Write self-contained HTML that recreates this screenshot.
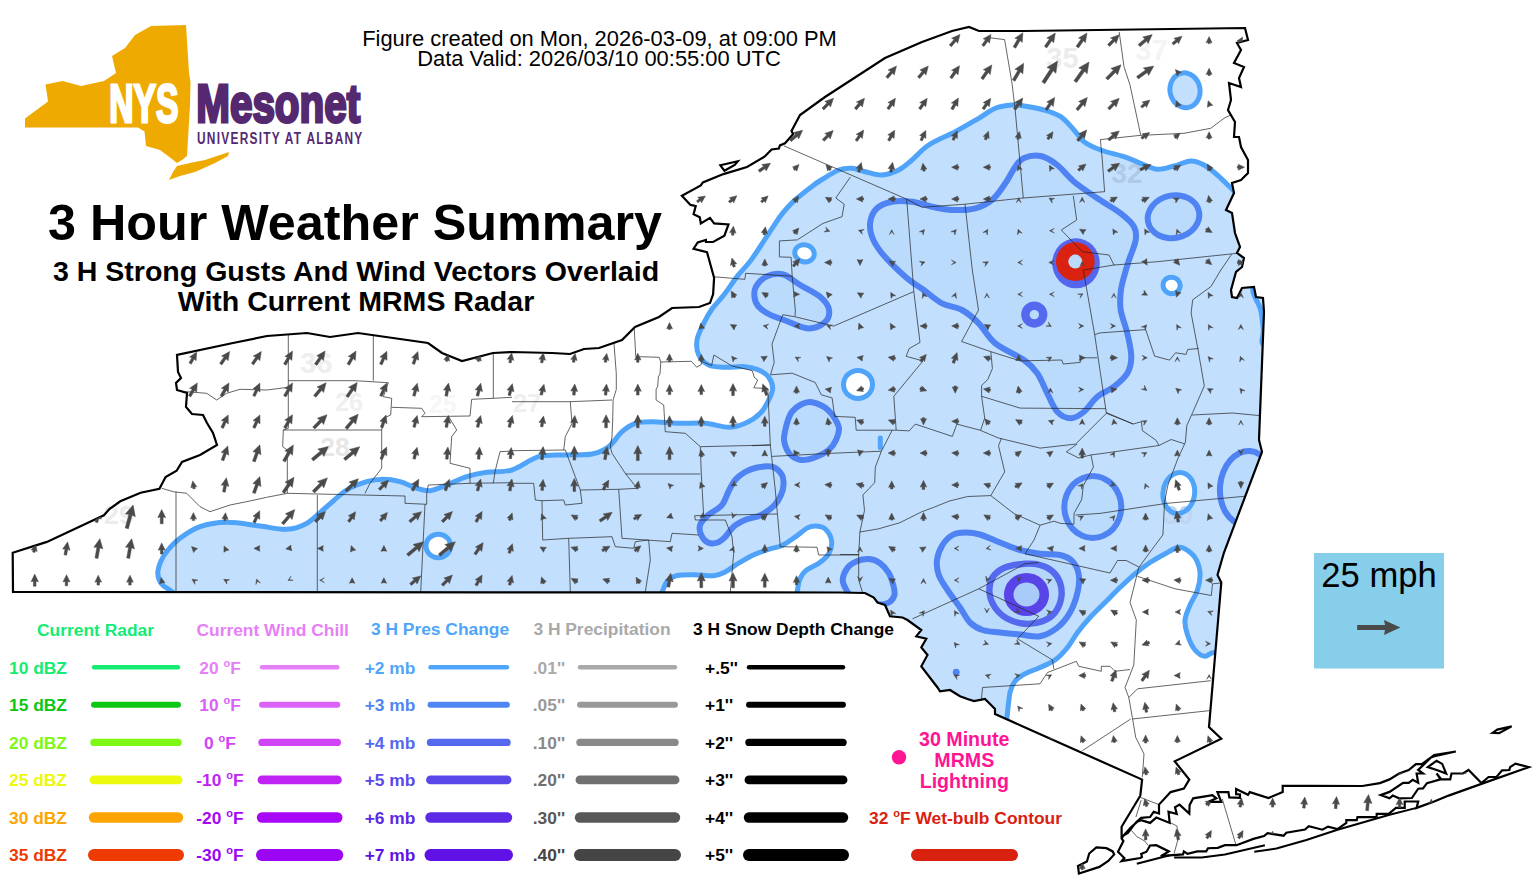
<!DOCTYPE html>
<html lang="en"><head><meta charset="utf-8"><title>NYS Mesonet 3 Hour Weather Summary</title>
<style>html,body{margin:0;padding:0;background:#fff}body{width:1536px;height:876px;overflow:hidden}svg{display:block}text{font-family:"Liberation Sans",Arial,Helvetica,sans-serif}</style>
</head><body>
<svg width="1536" height="876" viewBox="0 0 1536 876">
<rect width="1536" height="876" fill="#fff"/>
<defs><clipPath id="st"><path d="M13.0 592.0 L12.7 552.8 L46.9 541.9 L93.8 520.0 L103.9 515.3 L109.4 509.0 L120.3 501.3 L140.6 492.7 L159.4 488.8 L165.6 477.0 L176.6 470.8 L182.0 462.0 L200.0 455.0 L217.0 445.0 L213.0 433.0 L207.0 423.0 L203.0 415.0 L192.0 414.0 L186.0 407.0 L187.0 393.0 L177.0 390.0 L176.0 383.0 L181.0 378.0 L178.0 372.0 L177.0 355.0 L233.0 343.0 L267.0 336.0 L307.0 333.0 L330.0 337.0 L358.0 333.0 L393.0 338.0 L428.0 343.0 L442.0 353.0 L462.0 361.0 L493.0 353.0 L512.0 352.0 L552.0 353.0 L570.0 354.0 L584.0 349.0 L599.0 348.0 L622.0 340.0 L635.0 327.0 L659.0 317.0 L672.0 308.0 L699.0 307.0 L710.0 303.0 L713.1 294.3 L714.1 277.8 L707.0 252.2 L693.6 248.7 L697.7 242.5 L705.9 239.9 L706.0 242.0 L713.1 241.9 L724.4 235.7 L728.5 224.5 L714.1 223.4 L710.0 217.9 L700.8 223.4 L699.8 217.3 L693.6 214.2 L695.7 206.0 L690.5 204.9 L681.9 195.7 L700.8 185.4 L702.9 182.4 L723.4 174.1 L747.0 167.0 L764.5 156.7 L771.6 149.5 L778.8 148.5 L779.9 145.4 L785.0 143.3 L793.2 134.1 L791.5 131.0 L800.0 115.0 L825.0 97.0 L885.0 58.0 L922.0 42.0 L952.0 31.0 L969.0 27.0 L979.0 31.0 L1024.0 31.0 L1245.0 28.0 L1248.0 40.0 L1237.0 43.0 L1241.0 50.0 L1234.0 63.0 L1244.0 67.0 L1239.0 78.0 L1241.0 87.0 L1229.0 83.0 L1231.0 100.0 L1228.0 110.0 L1235.0 122.0 L1234.0 137.0 L1239.0 137.0 L1241.0 147.0 L1248.0 160.0 L1248.0 173.0 L1241.0 180.0 L1232.0 183.0 L1234.0 193.0 L1226.0 210.0 L1232.0 213.0 L1235.0 233.0 L1240.0 247.0 L1237.0 253.0 L1244.0 258.0 L1242.0 267.0 L1236.0 272.0 L1231.0 290.0 L1232.0 297.0 L1237.0 298.0 L1242.0 288.0 L1254.0 287.0 L1256.0 297.0 L1263.0 298.0 L1264.0 312.0 L1259.0 440.0 L1262.0 452.0 L1224.0 552.5 L1217.5 575.0 L1221.3 582.5 L1209.0 727.0 L1221.3 738.7 L1174.7 761.3 L1189.3 779.6 L1183.9 788.5 L1170.6 792.1 L1159.0 804.6 L1159.0 813.5 L1153.7 811.7 L1150.1 817.0 L1141.2 817.9 L1135.9 822.4 L1127.9 833.0 L1121.6 836.6 L1121.6 826.8 L1140.3 795.7 L1142.1 779.6 L1024.0 727.0 L995.0 714.0 L995.0 709.0 L985.0 699.0 L974.0 701.0 L967.5 699.0 L960.0 696.3 L950.0 690.0 L940.0 691.3 L937.5 687.5 L921.3 666.3 L927.5 655.0 L921.3 647.5 L926.3 638.8 L916.3 636.3 L921.3 630.0 L907.5 620.0 L902.5 617.5 L890.0 616.3 L885.0 605.0 L877.5 602.5 L873.8 597.5 L865.0 593.0 L840.0 592.5 Z M1123.4 835.7 L1130.5 827.7 L1137.7 821.5 L1141.2 820.2 L1150.1 822.9 L1156.3 817.6 L1169.7 822.9 L1168.5 811.7 L1176.8 814.0 L1175.0 807.2 L1179.5 804.6 L1189.3 813.5 L1189.6 805.1 L1193.2 798.3 L1212.4 795.1 L1216.3 798.3 L1208.0 801.9 L1221.3 801.9 L1217.4 792.1 L1228.4 792.1 L1229.3 797.4 L1240.0 797.8 L1240.0 794.5 L1236.1 794.2 L1236.1 789.1 L1248.0 794.8 L1249.8 792.1 L1268.5 798.0 L1282.7 792.1 L1282.7 785.9 L1310.0 785.9 L1362.3 786.0 L1379.9 783.1 L1389.5 779.4 L1399.1 773.5 L1408.7 770.0 L1415.9 764.2 L1422.2 763.9 L1434.2 755.1 L1455.8 751.5 L1434.5 756.2 L1431.0 757.5 L1418.2 770.0 L1423.0 773.5 L1416.6 773.5 L1418.2 782.8 L1412.7 779.9 L1408.7 782.8 L1403.1 782.8 L1389.5 791.9 L1380.7 795.1 L1389.5 798.3 L1392.7 795.6 L1399.1 798.3 L1411.9 798.0 L1418.2 788.7 L1423.0 788.4 L1427.0 783.1 L1440.6 779.4 L1436.6 773.5 L1441.4 779.4 L1450.2 779.4 L1451.5 773.5 L1463.0 773.5 L1468.6 770.0 L1481.4 783.1 L1488.6 777.0 L1496.5 777.0 L1502.1 770.3 L1509.3 770.0 L1510.1 767.1 L1515.4 763.6 L1528.8 767.1 L1481.4 783.9 L1448.6 795.6 L1434.2 801.5 L1416.6 807.9 L1418.2 801.5 L1404.7 801.5 L1404.7 807.9 L1395.9 807.9 L1388.7 813.8 L1376.7 813.8 L1376.7 817.1 L1357.5 817.1 L1356.7 820.2 L1346.3 820.2 L1346.3 823.0 L1337.5 829.1 L1328.0 826.6 L1322.4 829.7 L1308.8 826.2 L1305.0 829.5 L1286.3 832.7 L1283.6 835.7 L1267.6 833.2 L1264.0 836.1 L1253.4 838.9 L1236.5 845.2 L1224.9 845.2 L1217.8 847.8 L1208.0 848.2 L1206.2 851.4 L1197.3 851.4 L1187.5 853.9 L1183.9 851.4 L1183.0 854.4 L1169.7 855.3 L1160.8 856.2 L1168.8 851.4 L1156.3 845.2 L1150.1 845.5 L1146.5 851.7 L1141.2 853.9 L1142.0 857.0 L1140.3 858.0 L1121.6 861.2 L1124.3 858.0 L1118.0 851.7 L1123.4 841.0 L1121.6 838.4 Z M1078.0 866.0 L1086.9 861.5 L1089.2 853.5 L1096.3 847.3 L1106.5 848.2 L1112.7 851.4 L1114.2 854.4 L1108.3 861.0 L1099.4 866.9 L1078.9 873.5 Z M1427.8 767.1 L1436.6 760.7 L1442.2 763.9 L1446.2 773.5 L1437.4 770.3 Z M1492.6 732.8 L1497.3 729.6 L1511.7 726.4 L1499.0 733.1 Z M720.3 165.3 L737.8 161.2 L734.7 164.9 L724.4 170.7 Z"/></clipPath></defs>
<path d="M13.0 592.0 L12.7 552.8 L46.9 541.9 L93.8 520.0 L103.9 515.3 L109.4 509.0 L120.3 501.3 L140.6 492.7 L159.4 488.8 L165.6 477.0 L176.6 470.8 L182.0 462.0 L200.0 455.0 L217.0 445.0 L213.0 433.0 L207.0 423.0 L203.0 415.0 L192.0 414.0 L186.0 407.0 L187.0 393.0 L177.0 390.0 L176.0 383.0 L181.0 378.0 L178.0 372.0 L177.0 355.0 L233.0 343.0 L267.0 336.0 L307.0 333.0 L330.0 337.0 L358.0 333.0 L393.0 338.0 L428.0 343.0 L442.0 353.0 L462.0 361.0 L493.0 353.0 L512.0 352.0 L552.0 353.0 L570.0 354.0 L584.0 349.0 L599.0 348.0 L622.0 340.0 L635.0 327.0 L659.0 317.0 L672.0 308.0 L699.0 307.0 L710.0 303.0 L713.1 294.3 L714.1 277.8 L707.0 252.2 L693.6 248.7 L697.7 242.5 L705.9 239.9 L706.0 242.0 L713.1 241.9 L724.4 235.7 L728.5 224.5 L714.1 223.4 L710.0 217.9 L700.8 223.4 L699.8 217.3 L693.6 214.2 L695.7 206.0 L690.5 204.9 L681.9 195.7 L700.8 185.4 L702.9 182.4 L723.4 174.1 L747.0 167.0 L764.5 156.7 L771.6 149.5 L778.8 148.5 L779.9 145.4 L785.0 143.3 L793.2 134.1 L791.5 131.0 L800.0 115.0 L825.0 97.0 L885.0 58.0 L922.0 42.0 L952.0 31.0 L969.0 27.0 L979.0 31.0 L1024.0 31.0 L1245.0 28.0 L1248.0 40.0 L1237.0 43.0 L1241.0 50.0 L1234.0 63.0 L1244.0 67.0 L1239.0 78.0 L1241.0 87.0 L1229.0 83.0 L1231.0 100.0 L1228.0 110.0 L1235.0 122.0 L1234.0 137.0 L1239.0 137.0 L1241.0 147.0 L1248.0 160.0 L1248.0 173.0 L1241.0 180.0 L1232.0 183.0 L1234.0 193.0 L1226.0 210.0 L1232.0 213.0 L1235.0 233.0 L1240.0 247.0 L1237.0 253.0 L1244.0 258.0 L1242.0 267.0 L1236.0 272.0 L1231.0 290.0 L1232.0 297.0 L1237.0 298.0 L1242.0 288.0 L1254.0 287.0 L1256.0 297.0 L1263.0 298.0 L1264.0 312.0 L1259.0 440.0 L1262.0 452.0 L1224.0 552.5 L1217.5 575.0 L1221.3 582.5 L1209.0 727.0 L1221.3 738.7 L1174.7 761.3 L1189.3 779.6 L1183.9 788.5 L1170.6 792.1 L1159.0 804.6 L1159.0 813.5 L1153.7 811.7 L1150.1 817.0 L1141.2 817.9 L1135.9 822.4 L1127.9 833.0 L1121.6 836.6 L1121.6 826.8 L1140.3 795.7 L1142.1 779.6 L1024.0 727.0 L995.0 714.0 L995.0 709.0 L985.0 699.0 L974.0 701.0 L967.5 699.0 L960.0 696.3 L950.0 690.0 L940.0 691.3 L937.5 687.5 L921.3 666.3 L927.5 655.0 L921.3 647.5 L926.3 638.8 L916.3 636.3 L921.3 630.0 L907.5 620.0 L902.5 617.5 L890.0 616.3 L885.0 605.0 L877.5 602.5 L873.8 597.5 L865.0 593.0 L840.0 592.5 Z M1123.4 835.7 L1130.5 827.7 L1137.7 821.5 L1141.2 820.2 L1150.1 822.9 L1156.3 817.6 L1169.7 822.9 L1168.5 811.7 L1176.8 814.0 L1175.0 807.2 L1179.5 804.6 L1189.3 813.5 L1189.6 805.1 L1193.2 798.3 L1212.4 795.1 L1216.3 798.3 L1208.0 801.9 L1221.3 801.9 L1217.4 792.1 L1228.4 792.1 L1229.3 797.4 L1240.0 797.8 L1240.0 794.5 L1236.1 794.2 L1236.1 789.1 L1248.0 794.8 L1249.8 792.1 L1268.5 798.0 L1282.7 792.1 L1282.7 785.9 L1310.0 785.9 L1362.3 786.0 L1379.9 783.1 L1389.5 779.4 L1399.1 773.5 L1408.7 770.0 L1415.9 764.2 L1422.2 763.9 L1434.2 755.1 L1455.8 751.5 L1434.5 756.2 L1431.0 757.5 L1418.2 770.0 L1423.0 773.5 L1416.6 773.5 L1418.2 782.8 L1412.7 779.9 L1408.7 782.8 L1403.1 782.8 L1389.5 791.9 L1380.7 795.1 L1389.5 798.3 L1392.7 795.6 L1399.1 798.3 L1411.9 798.0 L1418.2 788.7 L1423.0 788.4 L1427.0 783.1 L1440.6 779.4 L1436.6 773.5 L1441.4 779.4 L1450.2 779.4 L1451.5 773.5 L1463.0 773.5 L1468.6 770.0 L1481.4 783.1 L1488.6 777.0 L1496.5 777.0 L1502.1 770.3 L1509.3 770.0 L1510.1 767.1 L1515.4 763.6 L1528.8 767.1 L1481.4 783.9 L1448.6 795.6 L1434.2 801.5 L1416.6 807.9 L1418.2 801.5 L1404.7 801.5 L1404.7 807.9 L1395.9 807.9 L1388.7 813.8 L1376.7 813.8 L1376.7 817.1 L1357.5 817.1 L1356.7 820.2 L1346.3 820.2 L1346.3 823.0 L1337.5 829.1 L1328.0 826.6 L1322.4 829.7 L1308.8 826.2 L1305.0 829.5 L1286.3 832.7 L1283.6 835.7 L1267.6 833.2 L1264.0 836.1 L1253.4 838.9 L1236.5 845.2 L1224.9 845.2 L1217.8 847.8 L1208.0 848.2 L1206.2 851.4 L1197.3 851.4 L1187.5 853.9 L1183.9 851.4 L1183.0 854.4 L1169.7 855.3 L1160.8 856.2 L1168.8 851.4 L1156.3 845.2 L1150.1 845.5 L1146.5 851.7 L1141.2 853.9 L1142.0 857.0 L1140.3 858.0 L1121.6 861.2 L1124.3 858.0 L1118.0 851.7 L1123.4 841.0 L1121.6 838.4 Z M1078.0 866.0 L1086.9 861.5 L1089.2 853.5 L1096.3 847.3 L1106.5 848.2 L1112.7 851.4 L1114.2 854.4 L1108.3 861.0 L1099.4 866.9 L1078.9 873.5 Z M1427.8 767.1 L1436.6 760.7 L1442.2 763.9 L1446.2 773.5 L1437.4 770.3 Z M1492.6 732.8 L1497.3 729.6 L1511.7 726.4 L1499.0 733.1 Z M720.3 165.3 L737.8 161.2 L734.7 164.9 L724.4 170.7 Z" fill="#fff" stroke="none"/>
<g clip-path="url(#st)">
<path d="M195.0 608.0 C157.1 605.0 178.1 596.0 172.6 592.0 C167.1 588.0 164.3 587.3 161.8 584.2 C159.3 581.1 157.9 577.4 157.8 573.5 C157.7 569.6 159.3 564.9 161.0 561.0 C162.7 557.1 164.8 553.8 168.0 550.0 C171.2 546.2 174.7 542.2 180.0 538.3 C185.3 534.4 192.2 529.4 200.0 526.7 C207.8 524.0 216.7 522.4 226.7 522.3 C236.7 522.2 250.0 524.8 260.0 526.0 C270.0 527.2 278.9 529.8 286.7 529.3 C294.5 528.8 300.0 527.1 306.7 523.3 C313.4 519.5 320.0 512.2 326.7 506.7 C333.4 501.1 340.0 494.2 346.7 490.0 C353.4 485.8 360.6 483.5 366.7 481.7 C372.8 479.9 377.8 479.3 383.3 479.3 C388.9 479.3 394.4 480.2 400.0 481.7 C405.6 483.2 411.7 486.8 416.7 488.3 C421.7 489.8 425.0 491.2 430.0 490.7 C435.0 490.1 440.6 487.3 446.7 485.0 C452.8 482.7 460.0 478.8 466.7 476.7 C473.4 474.6 479.1 473.4 486.7 472.3 C494.2 471.2 503.3 472.6 512.0 470.0 C520.7 467.4 529.8 459.2 538.7 456.7 C547.6 454.2 556.4 455.4 565.3 455.0 C574.2 454.6 584.8 455.4 592.0 454.0 C599.2 452.6 603.7 450.4 608.7 446.7 C613.7 443.0 617.6 435.6 622.0 431.7 C626.4 427.8 630.3 425.0 635.3 423.3 C640.3 421.6 644.8 421.7 652.0 421.7 C659.2 421.7 669.8 423.0 678.7 423.3 C687.6 423.6 697.0 422.6 705.3 423.3 C713.6 424.0 722.0 427.3 728.7 427.3 C735.4 427.3 740.0 425.6 745.3 423.3 C750.6 421.0 756.4 417.2 760.3 413.3 C764.2 409.4 766.6 404.2 768.7 400.0 C770.8 395.8 772.7 392.1 772.7 388.3 C772.7 384.5 771.0 380.4 768.7 377.3 C766.4 374.2 762.6 371.8 758.7 370.0 C754.8 368.2 750.9 367.1 745.3 366.7 C739.7 366.2 731.4 367.6 725.3 367.3 C719.2 367.0 713.1 367.1 708.7 365.0 C704.3 362.9 700.7 359.2 698.7 355.0 C696.8 350.8 696.2 345.3 697.0 340.0 C697.8 334.7 701.2 328.5 703.7 323.3 C706.2 318.1 708.6 313.8 712.0 309.0 C715.4 304.2 719.7 300.3 724.0 294.8 C728.3 289.3 733.1 281.7 737.6 275.9 C742.1 270.1 745.8 267.3 751.2 259.9 C756.7 252.4 765.5 238.4 770.3 231.2 C775.1 224.0 777.1 220.7 779.9 216.8 C782.7 212.9 784.4 210.9 787.1 208.0 C789.8 205.1 791.8 202.8 795.9 199.2 C800.0 195.6 807.5 189.7 811.9 186.4 C816.2 183.1 817.5 182.2 822.0 179.5 C826.5 176.8 833.7 171.9 838.7 170.0 C843.7 168.1 847.6 168.0 852.0 168.3 C856.4 168.6 860.3 170.6 865.3 171.7 C870.3 172.8 876.4 175.3 882.0 175.0 C887.6 174.7 893.7 172.5 898.7 170.0 C903.7 167.5 907.0 164.2 912.0 160.0 C917.0 155.8 921.5 149.7 928.7 145.0 C935.9 140.3 947.0 136.1 955.3 131.7 C963.6 127.2 972.0 122.2 978.7 118.3 C985.4 114.4 989.8 110.5 995.3 108.3 C1000.8 106.1 1007.2 105.4 1012.0 105.0 C1016.8 104.6 1018.7 105.2 1024.0 106.0 C1029.3 106.8 1037.9 108.2 1044.0 110.0 C1050.1 111.8 1055.7 113.4 1060.7 116.7 C1065.7 120.0 1070.1 125.8 1074.0 130.0 C1077.9 134.2 1079.5 138.4 1084.0 141.7 C1088.5 145.0 1094.0 147.5 1100.7 150.0 C1107.4 152.5 1117.3 154.5 1124.0 156.7 C1130.7 158.9 1135.2 161.2 1140.7 163.3 C1146.2 165.4 1151.8 168.9 1157.3 169.3 C1162.8 169.8 1168.4 167.4 1174.0 166.0 C1179.6 164.6 1185.7 161.2 1190.7 161.0 C1195.7 160.8 1199.6 162.7 1204.0 165.0 C1208.4 167.3 1212.6 170.9 1217.3 175.0 C1222.0 179.1 1227.7 185.1 1232.3 189.3 C1236.9 193.5 1238.7 195.7 1245.0 200.0 C1251.3 204.3 1260.8 198.3 1270.0 215.0 C1279.2 231.7 1295.0 252.5 1300.0 300.0 C1305.0 347.5 1306.7 443.3 1300.0 500.0 C1293.3 556.7 1270.0 613.3 1260.0 640.0 C1250.0 666.7 1247.5 657.9 1240.0 660.0 C1232.5 662.1 1220.8 653.1 1215.0 652.5 C1209.2 651.9 1208.3 656.7 1205.0 656.3 C1201.7 655.9 1197.9 653.5 1195.0 650.0 C1192.1 646.5 1189.2 640.0 1187.5 635.0 C1185.8 630.0 1184.6 625.0 1185.0 620.0 C1185.4 615.0 1187.9 610.0 1190.0 605.0 C1192.1 600.0 1195.8 595.4 1197.5 590.0 C1199.2 584.6 1200.4 577.9 1200.0 572.5 C1199.6 567.1 1197.5 561.5 1195.0 557.5 C1192.5 553.5 1187.9 550.5 1185.0 548.8 C1182.1 547.1 1180.8 546.7 1177.5 547.5 C1174.2 548.3 1169.6 551.3 1165.0 553.8 C1160.4 556.3 1155.0 559.2 1150.0 562.5 C1145.0 565.8 1140.0 569.6 1135.0 573.8 C1130.0 578.0 1125.0 582.7 1120.0 587.5 C1115.0 592.3 1110.0 597.5 1105.0 602.5 C1100.0 607.5 1094.6 612.5 1090.0 617.5 C1085.4 622.5 1081.2 627.5 1077.5 632.5 C1073.8 637.5 1071.2 642.9 1067.5 647.5 C1063.8 652.1 1059.6 656.7 1055.0 660.0 C1050.4 663.3 1045.0 665.2 1040.0 667.5 C1035.0 669.8 1029.2 671.5 1025.0 673.8 C1020.8 676.1 1017.5 678.2 1015.0 681.3 C1012.5 684.4 1011.3 686.5 1010.0 692.5 C1008.7 698.5 1008.0 709.4 1007.0 717.3 C1006.0 725.2 1015.2 732.9 1004.0 740.0 C992.8 747.1 964.0 775.0 940.0 760.0 C916.0 745.0 876.7 676.7 860.0 650.0 C843.3 623.3 866.7 606.7 840.0 600.0 C813.3 593.3 773.3 608.3 700.0 610.0 C626.7 611.7 484.2 610.3 400.0 610.0 C315.8 609.7 232.9 611.0 195.0 608.0 Z M655.0 606.0 C632.8 603.7 660.0 596.4 662.0 592.3 C664.0 588.2 664.5 584.4 666.9 581.6 C669.3 578.8 672.0 576.9 676.6 575.7 C681.2 574.6 688.0 574.7 694.2 574.7 C700.4 574.7 708.6 576.2 713.8 575.7 C719.0 575.2 721.6 573.8 725.5 571.8 C729.4 569.8 732.7 566.8 737.2 564.0 C741.8 561.2 747.6 557.7 752.8 555.2 C758.0 552.8 763.5 550.9 768.4 549.3 C773.3 547.7 777.5 547.5 782.1 545.4 C786.7 543.3 791.6 539.5 795.8 536.6 C800.0 533.7 804.2 529.7 807.5 527.9 C810.8 526.1 812.4 525.8 815.3 525.9 C818.2 526.0 822.4 526.4 825.1 528.8 C827.8 531.2 830.9 536.4 831.5 540.5 C832.1 544.6 831.0 549.5 829.0 553.2 C827.0 557.0 823.1 560.1 819.2 563.0 C815.3 565.9 808.8 568.0 805.5 570.8 C802.2 573.6 801.1 576.0 799.7 579.6 C798.3 583.2 797.9 587.9 797.1 592.3 C796.3 596.7 818.7 603.7 795.0 606.0 C771.3 608.3 677.2 608.3 655.0 606.0 Z M450.6 546.0 C450.6 547.5 450.3 549.1 449.7 550.5 C449.1 551.9 448.1 553.3 447.0 554.3 C445.9 555.4 444.5 556.3 443.0 556.9 C441.6 557.5 439.9 557.8 438.3 557.8 C436.7 557.8 435.0 557.5 433.6 556.9 C432.1 556.3 430.7 555.4 429.6 554.3 C428.5 553.3 427.5 551.9 426.9 550.5 C426.3 549.1 426.0 547.5 426.0 546.0 C426.0 544.5 426.3 542.9 426.9 541.5 C427.5 540.1 428.5 538.7 429.6 537.7 C430.7 536.6 432.1 535.7 433.6 535.1 C435.0 534.5 436.7 534.2 438.3 534.2 C439.9 534.2 441.6 534.5 443.0 535.1 C444.5 535.7 445.9 536.6 447.0 537.7 C448.1 538.7 449.1 540.1 449.7 541.5 C450.3 542.9 450.6 544.5 450.6 546.0 Z M872.5 384.5 C872.5 386.3 872.1 388.2 871.4 389.9 C870.7 391.5 869.6 393.1 868.3 394.4 C866.9 395.7 865.3 396.8 863.5 397.4 C861.8 398.1 859.8 398.5 858.0 398.5 C856.2 398.5 854.2 398.1 852.5 397.4 C850.7 396.8 849.1 395.7 847.7 394.4 C846.4 393.1 845.3 391.5 844.6 389.9 C843.9 388.2 843.5 386.3 843.5 384.5 C843.5 382.7 843.9 380.8 844.6 379.1 C845.3 377.5 846.4 375.9 847.7 374.6 C849.1 373.3 850.7 372.2 852.5 371.6 C854.2 370.9 856.2 370.5 858.0 370.5 C859.8 370.5 861.8 370.9 863.5 371.6 C865.3 372.2 866.9 373.3 868.3 374.6 C869.6 375.9 870.7 377.5 871.4 379.1 C872.1 380.8 872.5 382.7 872.5 384.5 Z M1194.4 495.2 C1194.1 497.8 1193.3 500.5 1192.2 502.8 C1191.1 505.1 1189.5 507.3 1187.8 509.0 C1186.2 510.6 1184.1 512.0 1182.1 512.7 C1180.2 513.4 1177.9 513.7 1175.9 513.4 C1173.9 513.1 1171.9 512.3 1170.2 511.0 C1168.5 509.8 1166.9 507.9 1165.7 505.9 C1164.6 503.8 1163.7 501.3 1163.2 498.8 C1162.8 496.3 1162.8 493.4 1163.2 490.8 C1163.5 488.2 1164.3 485.5 1165.4 483.2 C1166.5 480.9 1168.1 478.7 1169.8 477.0 C1171.4 475.4 1173.5 474.0 1175.5 473.3 C1177.4 472.6 1179.7 472.3 1181.7 472.6 C1183.7 472.9 1185.7 473.7 1187.4 475.0 C1189.1 476.2 1190.7 478.1 1191.9 480.1 C1193.0 482.2 1193.9 484.7 1194.4 487.2 C1194.8 489.7 1194.8 492.6 1194.4 495.2 Z M814.0 255.8 C813.7 256.9 813.1 257.9 812.4 258.8 C811.7 259.6 810.7 260.4 809.6 260.9 C808.6 261.4 807.3 261.8 806.1 261.9 C804.9 262.0 803.5 261.8 802.3 261.5 C801.1 261.2 799.9 260.6 798.8 259.9 C797.8 259.2 796.9 258.3 796.3 257.3 C795.6 256.3 795.1 255.2 794.9 254.1 C794.7 253.0 794.8 251.8 795.0 250.8 C795.3 249.7 795.9 248.7 796.6 247.8 C797.3 247.0 798.3 246.2 799.4 245.7 C800.4 245.2 801.7 244.8 802.9 244.7 C804.1 244.6 805.5 244.8 806.7 245.1 C807.9 245.4 809.1 246.0 810.2 246.7 C811.2 247.4 812.1 248.3 812.7 249.3 C813.4 250.3 813.9 251.4 814.1 252.5 C814.3 253.6 814.2 254.8 814.0 255.8 Z M1179.7 288.3 C1179.3 289.3 1178.7 290.3 1178.0 291.1 C1177.3 291.8 1176.3 292.5 1175.3 292.9 C1174.3 293.4 1173.2 293.6 1172.1 293.6 C1171.0 293.7 1169.8 293.5 1168.8 293.1 C1167.8 292.7 1166.7 292.1 1165.9 291.4 C1165.1 290.7 1164.4 289.7 1163.9 288.8 C1163.4 287.8 1163.1 286.7 1163.1 285.6 C1163.0 284.6 1163.2 283.4 1163.5 282.5 C1163.9 281.5 1164.5 280.5 1165.2 279.7 C1165.9 279.0 1166.9 278.3 1167.9 277.9 C1168.9 277.4 1170.0 277.2 1171.1 277.2 C1172.2 277.1 1173.4 277.3 1174.4 277.7 C1175.4 278.1 1176.5 278.7 1177.3 279.4 C1178.1 280.1 1178.8 281.1 1179.3 282.0 C1179.8 283.0 1180.1 284.1 1180.1 285.2 C1180.2 286.2 1180.0 287.4 1179.7 288.3 Z" fill="#C2DFFD" fill-rule="evenodd" stroke="none"/>
<path d="M1199.8 87.7 C1200.2 89.9 1200.2 92.3 1199.8 94.5 C1199.4 96.6 1198.7 98.9 1197.6 100.6 C1196.5 102.4 1195.1 104.1 1193.5 105.2 C1191.9 106.4 1189.9 107.2 1188.0 107.5 C1186.2 107.9 1184.0 107.8 1182.2 107.2 C1180.3 106.7 1178.3 105.6 1176.7 104.3 C1175.1 103.0 1173.6 101.2 1172.5 99.3 C1171.4 97.4 1170.6 95.1 1170.2 92.9 C1169.8 90.7 1169.8 88.3 1170.2 86.1 C1170.6 84.0 1171.3 81.7 1172.4 80.0 C1173.5 78.2 1174.9 76.5 1176.5 75.4 C1178.1 74.2 1180.1 73.4 1182.0 73.1 C1183.8 72.7 1186.0 72.8 1187.8 73.4 C1189.7 73.9 1191.7 75.0 1193.3 76.3 C1194.9 77.6 1196.4 79.4 1197.5 81.3 C1198.6 83.2 1199.4 85.5 1199.8 87.7 Z" fill="#C2DFFD" fill-rule="evenodd" stroke="none"/>
<path d="M905.3 276.7 C898.3 270.6 887.5 260.0 882.0 253.3 C876.5 246.6 874.0 242.0 872.0 236.7 C870.0 231.4 869.5 226.4 870.3 221.7 C871.1 217.0 873.4 211.6 877.0 208.3 C880.6 205.0 886.2 202.8 892.0 201.7 C897.8 200.6 905.3 200.9 912.0 201.7 C918.7 202.5 925.3 205.3 932.0 206.7 C938.7 208.1 944.8 209.7 952.0 210.0 C959.2 210.3 968.6 210.0 975.3 208.3 C982.0 206.6 987.0 204.2 992.0 200.0 C997.0 195.8 1001.4 188.9 1005.3 183.3 C1009.2 177.8 1012.2 170.9 1015.3 166.7 C1018.4 162.5 1019.8 159.8 1024.0 158.0 C1028.2 156.2 1035.2 154.8 1040.7 156.0 C1046.2 157.2 1051.8 160.7 1057.3 165.0 C1062.8 169.3 1067.3 176.1 1074.0 181.7 C1080.7 187.2 1089.5 193.0 1097.3 198.3 C1105.1 203.6 1114.6 208.6 1120.7 213.3 C1126.8 218.0 1131.5 222.2 1134.0 226.7 C1136.5 231.1 1136.5 234.4 1135.7 240.0 C1134.9 245.6 1131.0 253.9 1129.0 260.0 C1127.0 266.1 1125.4 271.4 1124.0 276.7 C1122.6 282.0 1121.2 286.4 1120.7 292.0 C1120.2 297.6 1119.6 303.1 1120.7 310.0 C1121.8 316.9 1125.5 325.5 1127.3 333.3 C1129.1 341.1 1131.3 350.0 1131.3 356.7 C1131.3 363.4 1130.2 368.3 1127.3 373.3 C1124.4 378.3 1119.0 382.8 1114.0 386.7 C1109.0 390.6 1102.3 392.5 1097.3 396.7 C1092.3 400.9 1088.4 408.1 1084.0 411.7 C1079.6 415.3 1075.2 418.3 1070.7 418.3 C1066.2 418.3 1061.2 415.9 1057.3 411.7 C1053.4 407.5 1050.6 399.7 1047.3 393.3 C1044.0 386.9 1041.2 378.9 1037.3 373.3 C1033.4 367.8 1031.0 365.0 1024.0 360.0 C1017.0 355.0 1002.8 349.4 995.3 343.3 C987.8 337.2 984.2 328.9 978.7 323.3 C973.2 317.8 968.1 313.3 962.0 310.0 C955.9 306.7 948.4 306.6 942.0 303.3 C935.6 300.0 929.8 294.4 923.7 290.0 C917.6 285.6 912.2 282.8 905.3 276.7 Z" fill="#BBDBFC" fill-rule="evenodd" stroke="none"/>
<path d="M756.0 286.5 C758.0 283.1 762.0 278.5 766.5 276.5 C771.0 274.5 777.7 273.1 783.2 274.5 C788.8 275.9 793.5 281.0 799.8 284.8 C806.0 288.6 815.8 293.1 820.7 297.3 C825.6 301.5 828.3 305.6 829.0 309.8 C829.7 314.0 828.3 319.2 824.8 322.3 C821.3 325.4 814.6 328.7 808.2 328.5 C801.8 328.3 793.0 323.4 786.5 321.0 C780.0 318.6 774.0 316.7 769.3 314.3 C764.6 311.9 760.9 309.4 758.4 306.5 C755.9 303.6 754.9 300.4 754.5 297.1 C754.1 293.8 754.0 289.9 756.0 286.5 Z" fill="#BBDBFC" fill-rule="evenodd" stroke="none"/>
<path d="M812.0 402.3 C816.5 403.2 823.5 405.9 828.0 410.0 C832.5 414.1 837.4 421.7 838.7 426.7 C840.0 431.7 837.7 436.1 836.0 440.0 C834.3 443.9 832.0 447.2 828.7 450.0 C825.4 452.8 820.5 455.3 816.0 457.0 C811.5 458.7 806.0 460.2 802.0 460.0 C798.0 459.8 794.5 457.7 792.0 456.0 C789.5 454.3 788.3 452.7 787.0 450.0 C785.7 447.3 784.3 443.3 784.0 440.0 C783.7 436.7 784.6 433.3 785.3 430.0 C786.0 426.7 786.9 423.1 788.0 420.0 C789.1 416.9 789.8 414.3 792.0 411.7 C794.2 409.1 797.7 406.1 801.0 404.5 C804.3 402.9 807.5 401.4 812.0 402.3 Z" fill="#BBDBFC" fill-rule="evenodd" stroke="none"/>
<path d="M772.0 466.7 C776.2 467.9 780.1 471.9 782.0 475.0 C783.9 478.1 783.7 481.7 783.5 485.0 C783.3 488.3 782.5 491.6 781.0 495.0 C779.5 498.4 777.7 502.0 774.3 505.4 C770.9 508.8 765.5 512.8 760.6 515.2 C755.7 517.6 749.5 518.0 745.0 520.0 C740.5 522.0 736.5 524.1 733.3 526.9 C730.0 529.7 728.1 534.0 725.5 536.6 C722.9 539.2 720.6 541.5 717.7 542.5 C714.8 543.5 710.7 543.8 707.9 542.5 C705.1 541.2 702.4 537.6 701.1 534.7 C699.8 531.8 699.0 528.1 700.1 524.9 C701.2 521.6 704.3 518.5 707.9 515.2 C711.5 512.0 718.2 509.3 721.6 505.4 C725.0 501.5 726.1 495.9 728.4 491.7 C730.7 487.5 732.4 483.3 735.2 480.0 C738.0 476.7 741.4 474.1 745.0 472.0 C748.6 469.9 752.5 468.4 757.0 467.5 C761.5 466.6 767.8 465.4 772.0 466.7 Z" fill="#BBDBFC" fill-rule="evenodd" stroke="none"/>
<path d="M1198.9 211.3 C1199.5 214.0 1199.4 217.0 1198.7 219.7 C1198.0 222.4 1196.5 225.2 1194.6 227.6 C1192.7 230.0 1190.1 232.2 1187.3 233.9 C1184.5 235.5 1181.2 236.8 1177.9 237.5 C1174.7 238.2 1171.1 238.4 1167.9 238.0 C1164.6 237.6 1161.3 236.6 1158.6 235.3 C1156.0 233.9 1153.5 231.9 1151.7 229.7 C1149.9 227.5 1148.6 224.8 1148.1 222.1 C1147.5 219.4 1147.6 216.4 1148.3 213.7 C1149.0 211.0 1150.5 208.2 1152.4 205.8 C1154.3 203.4 1156.9 201.2 1159.7 199.5 C1162.5 197.9 1165.8 196.6 1169.1 195.9 C1172.3 195.2 1175.9 195.0 1179.1 195.4 C1182.4 195.8 1185.7 196.8 1188.4 198.1 C1191.0 199.5 1193.5 201.5 1195.3 203.7 C1197.1 205.9 1198.4 208.6 1198.9 211.3 Z" fill="#BBDBFC" fill-rule="evenodd" stroke="none"/>
<path d="M1121.3 507.0 C1121.3 511.0 1120.5 515.2 1119.1 518.9 C1117.7 522.5 1115.5 526.1 1113.0 528.9 C1110.4 531.7 1107.1 534.1 1103.7 535.6 C1100.3 537.2 1096.4 538.0 1092.8 538.0 C1089.2 538.0 1085.3 537.2 1081.9 535.6 C1078.5 534.1 1075.2 531.7 1072.6 528.9 C1070.1 526.1 1067.9 522.5 1066.5 518.9 C1065.1 515.2 1064.3 511.0 1064.3 507.0 C1064.3 503.0 1065.1 498.8 1066.5 495.1 C1067.9 491.5 1070.1 487.9 1072.6 485.1 C1075.2 482.3 1078.5 479.9 1081.9 478.4 C1085.3 476.8 1089.2 476.0 1092.8 476.0 C1096.4 476.0 1100.3 476.8 1103.7 478.4 C1107.1 479.9 1110.4 482.3 1113.0 485.1 C1115.5 487.9 1117.7 491.5 1119.1 495.1 C1120.5 498.8 1121.3 503.0 1121.3 507.0 Z" fill="#BBDBFC" fill-rule="evenodd" stroke="none"/>
<path d="M1273.9 490.4 C1273.5 495.1 1272.3 500.1 1270.6 504.3 C1268.9 508.5 1266.5 512.6 1263.7 515.7 C1261.0 518.8 1257.6 521.4 1254.3 523.0 C1251.0 524.5 1247.2 525.2 1243.8 524.9 C1240.3 524.6 1236.7 523.2 1233.7 521.2 C1230.7 519.1 1227.8 515.9 1225.7 512.4 C1223.6 508.9 1221.8 504.4 1220.9 499.9 C1220.0 495.5 1219.7 490.3 1220.1 485.6 C1220.5 480.9 1221.7 475.9 1223.4 471.7 C1225.1 467.5 1227.5 463.4 1230.3 460.3 C1233.0 457.2 1236.4 454.6 1239.7 453.0 C1243.0 451.5 1246.8 450.8 1250.2 451.1 C1253.7 451.4 1257.3 452.8 1260.3 454.8 C1263.3 456.9 1266.2 460.1 1268.3 463.6 C1270.4 467.1 1272.2 471.6 1273.1 476.1 C1274.0 480.5 1274.3 485.7 1273.9 490.4 Z" fill="#BBDBFC" fill-rule="evenodd" stroke="none"/>
<path d="M842.7 579.6 C843.0 576.0 845.1 571.0 847.5 567.9 C849.9 564.8 853.7 562.6 857.3 561.1 C860.9 559.6 865.2 558.8 869.0 559.1 C872.8 559.4 876.5 560.7 879.8 563.0 C883.1 565.3 886.3 569.0 888.6 572.8 C890.9 576.5 892.4 581.8 893.4 585.5 C894.4 589.2 895.0 592.4 894.4 595.2 C893.8 598.0 891.6 600.6 889.5 602.1 C887.4 603.6 885.6 604.4 881.7 604.5 C877.8 604.6 871.0 604.2 866.0 603.0 C861.0 601.8 855.3 599.3 852.0 597.0 C848.7 594.7 847.5 592.3 846.0 589.4 C844.5 586.5 842.5 583.2 842.7 579.6 Z" fill="#BBDBFC" fill-rule="evenodd" stroke="none"/>
<path d="M965.0 532.5 C969.6 532.4 974.2 532.8 980.0 534.5 C985.8 536.2 993.3 539.9 1000.0 542.5 C1006.7 545.1 1013.3 548.1 1020.0 550.0 C1026.7 551.9 1033.3 553.0 1040.0 553.8 C1046.7 554.6 1054.6 553.8 1060.0 555.0 C1065.4 556.2 1069.4 558.0 1072.5 561.3 C1075.6 564.6 1078.0 569.8 1078.8 575.0 C1079.6 580.2 1079.0 586.2 1077.5 592.5 C1076.0 598.8 1073.3 606.7 1070.0 612.5 C1066.7 618.3 1062.5 623.5 1057.5 627.5 C1052.5 631.5 1046.2 635.1 1040.0 636.3 C1033.8 637.5 1026.7 635.1 1020.0 634.5 C1013.3 633.9 1006.2 633.2 1000.0 632.5 C993.8 631.8 987.5 631.7 982.5 630.0 C977.5 628.3 973.8 626.2 970.0 622.5 C966.2 618.8 963.8 612.9 960.0 607.5 C956.2 602.1 951.0 595.4 947.5 590.0 C944.0 584.6 940.5 580.0 938.8 575.0 C937.0 570.0 936.4 565.0 937.0 560.0 C937.6 555.0 939.9 549.2 942.5 545.0 C945.1 540.8 948.8 537.1 952.5 535.0 C956.2 532.9 960.4 532.6 965.0 532.5 Z" fill="#BBDBFC" fill-rule="evenodd" stroke="none"/>
<path d="M1025.0 563.8 C1030.8 563.4 1035.4 563.8 1040.0 565.0 C1044.6 566.2 1049.2 568.4 1052.5 571.3 C1055.8 574.2 1058.5 578.1 1060.0 582.5 C1061.5 586.9 1062.1 592.5 1061.3 597.5 C1060.5 602.5 1058.1 608.5 1055.0 612.5 C1051.9 616.5 1047.5 619.4 1042.5 621.3 C1037.5 623.2 1030.8 624.2 1025.0 623.8 C1019.2 623.4 1012.5 621.5 1007.5 618.8 C1002.5 616.1 998.0 611.9 995.0 607.5 C992.0 603.1 989.9 597.5 989.5 592.5 C989.1 587.5 989.9 581.7 992.5 577.5 C995.1 573.3 999.6 569.8 1005.0 567.5 C1010.4 565.2 1019.2 564.2 1025.0 563.8 Z" fill="#B5D6FB" fill-rule="evenodd" stroke="none"/>
</g>
<text x="316.3" y="373.4" font-size="29.3" font-weight="bold" fill="#eeeeee" text-anchor="middle">36</text>
<text x="349.1" y="410.5" font-size="25.1" font-weight="bold" fill="#f0f0f0" text-anchor="middle">26</text>
<text x="442.7" y="413.4" font-size="24.9" font-weight="bold" fill="#f6f6f6" text-anchor="middle">25</text>
<text x="335.0" y="456.0" font-size="26.4" font-weight="bold" fill="#e6e6e6" text-anchor="middle">28</text>
<text x="118.9" y="523.8" font-size="26.7" font-weight="bold" fill="#ececec" text-anchor="middle">29</text>
<text x="527.0" y="411.8" font-size="25.4" font-weight="bold" fill="#efefef" text-anchor="middle">27</text>
<text x="1062.4" y="68.4" font-size="29.0" font-weight="bold" fill="#ececec" text-anchor="middle">35</text>
<text x="1151.5" y="59.5" font-size="29.7" font-weight="bold" fill="#f4f4f4" text-anchor="middle">37</text>
<text x="1127.0" y="182.9" font-size="27.7" font-weight="bold" fill="#AFC9E8" text-anchor="middle">32</text>
<text x="1177.9" y="523.9" font-size="26.5" font-weight="bold" fill="#bcd5f3" text-anchor="middle">30</text>
<g clip-path="url(#st)" fill="none" stroke-linejoin="round" stroke-linecap="round">
<path d="M195.0 608.0 C157.1 605.0 178.1 596.0 172.6 592.0 C167.1 588.0 164.3 587.3 161.8 584.2 C159.3 581.1 157.9 577.4 157.8 573.5 C157.7 569.6 159.3 564.9 161.0 561.0 C162.7 557.1 164.8 553.8 168.0 550.0 C171.2 546.2 174.7 542.2 180.0 538.3 C185.3 534.4 192.2 529.4 200.0 526.7 C207.8 524.0 216.7 522.4 226.7 522.3 C236.7 522.2 250.0 524.8 260.0 526.0 C270.0 527.2 278.9 529.8 286.7 529.3 C294.5 528.8 300.0 527.1 306.7 523.3 C313.4 519.5 320.0 512.2 326.7 506.7 C333.4 501.1 340.0 494.2 346.7 490.0 C353.4 485.8 360.6 483.5 366.7 481.7 C372.8 479.9 377.8 479.3 383.3 479.3 C388.9 479.3 394.4 480.2 400.0 481.7 C405.6 483.2 411.7 486.8 416.7 488.3 C421.7 489.8 425.0 491.2 430.0 490.7 C435.0 490.1 440.6 487.3 446.7 485.0 C452.8 482.7 460.0 478.8 466.7 476.7 C473.4 474.6 479.1 473.4 486.7 472.3 C494.2 471.2 503.3 472.6 512.0 470.0 C520.7 467.4 529.8 459.2 538.7 456.7 C547.6 454.2 556.4 455.4 565.3 455.0 C574.2 454.6 584.8 455.4 592.0 454.0 C599.2 452.6 603.7 450.4 608.7 446.7 C613.7 443.0 617.6 435.6 622.0 431.7 C626.4 427.8 630.3 425.0 635.3 423.3 C640.3 421.6 644.8 421.7 652.0 421.7 C659.2 421.7 669.8 423.0 678.7 423.3 C687.6 423.6 697.0 422.6 705.3 423.3 C713.6 424.0 722.0 427.3 728.7 427.3 C735.4 427.3 740.0 425.6 745.3 423.3 C750.6 421.0 756.4 417.2 760.3 413.3 C764.2 409.4 766.6 404.2 768.7 400.0 C770.8 395.8 772.7 392.1 772.7 388.3 C772.7 384.5 771.0 380.4 768.7 377.3 C766.4 374.2 762.6 371.8 758.7 370.0 C754.8 368.2 750.9 367.1 745.3 366.7 C739.7 366.2 731.4 367.6 725.3 367.3 C719.2 367.0 713.1 367.1 708.7 365.0 C704.3 362.9 700.7 359.2 698.7 355.0 C696.8 350.8 696.2 345.3 697.0 340.0 C697.8 334.7 701.2 328.5 703.7 323.3 C706.2 318.1 708.6 313.8 712.0 309.0 C715.4 304.2 719.7 300.3 724.0 294.8 C728.3 289.3 733.1 281.7 737.6 275.9 C742.1 270.1 745.8 267.3 751.2 259.9 C756.7 252.4 765.5 238.4 770.3 231.2 C775.1 224.0 777.1 220.7 779.9 216.8 C782.7 212.9 784.4 210.9 787.1 208.0 C789.8 205.1 791.8 202.8 795.9 199.2 C800.0 195.6 807.5 189.7 811.9 186.4 C816.2 183.1 817.5 182.2 822.0 179.5 C826.5 176.8 833.7 171.9 838.7 170.0 C843.7 168.1 847.6 168.0 852.0 168.3 C856.4 168.6 860.3 170.6 865.3 171.7 C870.3 172.8 876.4 175.3 882.0 175.0 C887.6 174.7 893.7 172.5 898.7 170.0 C903.7 167.5 907.0 164.2 912.0 160.0 C917.0 155.8 921.5 149.7 928.7 145.0 C935.9 140.3 947.0 136.1 955.3 131.7 C963.6 127.2 972.0 122.2 978.7 118.3 C985.4 114.4 989.8 110.5 995.3 108.3 C1000.8 106.1 1007.2 105.4 1012.0 105.0 C1016.8 104.6 1018.7 105.2 1024.0 106.0 C1029.3 106.8 1037.9 108.2 1044.0 110.0 C1050.1 111.8 1055.7 113.4 1060.7 116.7 C1065.7 120.0 1070.1 125.8 1074.0 130.0 C1077.9 134.2 1079.5 138.4 1084.0 141.7 C1088.5 145.0 1094.0 147.5 1100.7 150.0 C1107.4 152.5 1117.3 154.5 1124.0 156.7 C1130.7 158.9 1135.2 161.2 1140.7 163.3 C1146.2 165.4 1151.8 168.9 1157.3 169.3 C1162.8 169.8 1168.4 167.4 1174.0 166.0 C1179.6 164.6 1185.7 161.2 1190.7 161.0 C1195.7 160.8 1199.6 162.7 1204.0 165.0 C1208.4 167.3 1212.6 170.9 1217.3 175.0 C1222.0 179.1 1227.7 185.1 1232.3 189.3 C1236.9 193.5 1238.7 195.7 1245.0 200.0 C1251.3 204.3 1260.8 198.3 1270.0 215.0 C1279.2 231.7 1295.0 252.5 1300.0 300.0 C1305.0 347.5 1306.7 443.3 1300.0 500.0 C1293.3 556.7 1270.0 613.3 1260.0 640.0 C1250.0 666.7 1247.5 657.9 1240.0 660.0 C1232.5 662.1 1220.8 653.1 1215.0 652.5 C1209.2 651.9 1208.3 656.7 1205.0 656.3 C1201.7 655.9 1197.9 653.5 1195.0 650.0 C1192.1 646.5 1189.2 640.0 1187.5 635.0 C1185.8 630.0 1184.6 625.0 1185.0 620.0 C1185.4 615.0 1187.9 610.0 1190.0 605.0 C1192.1 600.0 1195.8 595.4 1197.5 590.0 C1199.2 584.6 1200.4 577.9 1200.0 572.5 C1199.6 567.1 1197.5 561.5 1195.0 557.5 C1192.5 553.5 1187.9 550.5 1185.0 548.8 C1182.1 547.1 1180.8 546.7 1177.5 547.5 C1174.2 548.3 1169.6 551.3 1165.0 553.8 C1160.4 556.3 1155.0 559.2 1150.0 562.5 C1145.0 565.8 1140.0 569.6 1135.0 573.8 C1130.0 578.0 1125.0 582.7 1120.0 587.5 C1115.0 592.3 1110.0 597.5 1105.0 602.5 C1100.0 607.5 1094.6 612.5 1090.0 617.5 C1085.4 622.5 1081.2 627.5 1077.5 632.5 C1073.8 637.5 1071.2 642.9 1067.5 647.5 C1063.8 652.1 1059.6 656.7 1055.0 660.0 C1050.4 663.3 1045.0 665.2 1040.0 667.5 C1035.0 669.8 1029.2 671.5 1025.0 673.8 C1020.8 676.1 1017.5 678.2 1015.0 681.3 C1012.5 684.4 1011.3 686.5 1010.0 692.5 C1008.7 698.5 1008.0 709.4 1007.0 717.3 C1006.0 725.2 1015.2 732.9 1004.0 740.0 C992.8 747.1 964.0 775.0 940.0 760.0 C916.0 745.0 876.7 676.7 860.0 650.0 C843.3 623.3 866.7 606.7 840.0 600.0 C813.3 593.3 773.3 608.3 700.0 610.0 C626.7 611.7 484.2 610.3 400.0 610.0 C315.8 609.7 232.9 611.0 195.0 608.0 Z M655.0 606.0 C632.8 603.7 660.0 596.4 662.0 592.3 C664.0 588.2 664.5 584.4 666.9 581.6 C669.3 578.8 672.0 576.9 676.6 575.7 C681.2 574.6 688.0 574.7 694.2 574.7 C700.4 574.7 708.6 576.2 713.8 575.7 C719.0 575.2 721.6 573.8 725.5 571.8 C729.4 569.8 732.7 566.8 737.2 564.0 C741.8 561.2 747.6 557.7 752.8 555.2 C758.0 552.8 763.5 550.9 768.4 549.3 C773.3 547.7 777.5 547.5 782.1 545.4 C786.7 543.3 791.6 539.5 795.8 536.6 C800.0 533.7 804.2 529.7 807.5 527.9 C810.8 526.1 812.4 525.8 815.3 525.9 C818.2 526.0 822.4 526.4 825.1 528.8 C827.8 531.2 830.9 536.4 831.5 540.5 C832.1 544.6 831.0 549.5 829.0 553.2 C827.0 557.0 823.1 560.1 819.2 563.0 C815.3 565.9 808.8 568.0 805.5 570.8 C802.2 573.6 801.1 576.0 799.7 579.6 C798.3 583.2 797.9 587.9 797.1 592.3 C796.3 596.7 818.7 603.7 795.0 606.0 C771.3 608.3 677.2 608.3 655.0 606.0 Z M450.6 546.0 C450.6 547.5 450.3 549.1 449.7 550.5 C449.1 551.9 448.1 553.3 447.0 554.3 C445.9 555.4 444.5 556.3 443.0 556.9 C441.6 557.5 439.9 557.8 438.3 557.8 C436.7 557.8 435.0 557.5 433.6 556.9 C432.1 556.3 430.7 555.4 429.6 554.3 C428.5 553.3 427.5 551.9 426.9 550.5 C426.3 549.1 426.0 547.5 426.0 546.0 C426.0 544.5 426.3 542.9 426.9 541.5 C427.5 540.1 428.5 538.7 429.6 537.7 C430.7 536.6 432.1 535.7 433.6 535.1 C435.0 534.5 436.7 534.2 438.3 534.2 C439.9 534.2 441.6 534.5 443.0 535.1 C444.5 535.7 445.9 536.6 447.0 537.7 C448.1 538.7 449.1 540.1 449.7 541.5 C450.3 542.9 450.6 544.5 450.6 546.0 Z M872.5 384.5 C872.5 386.3 872.1 388.2 871.4 389.9 C870.7 391.5 869.6 393.1 868.3 394.4 C866.9 395.7 865.3 396.8 863.5 397.4 C861.8 398.1 859.8 398.5 858.0 398.5 C856.2 398.5 854.2 398.1 852.5 397.4 C850.7 396.8 849.1 395.7 847.7 394.4 C846.4 393.1 845.3 391.5 844.6 389.9 C843.9 388.2 843.5 386.3 843.5 384.5 C843.5 382.7 843.9 380.8 844.6 379.1 C845.3 377.5 846.4 375.9 847.7 374.6 C849.1 373.3 850.7 372.2 852.5 371.6 C854.2 370.9 856.2 370.5 858.0 370.5 C859.8 370.5 861.8 370.9 863.5 371.6 C865.3 372.2 866.9 373.3 868.3 374.6 C869.6 375.9 870.7 377.5 871.4 379.1 C872.1 380.8 872.5 382.7 872.5 384.5 Z M1194.4 495.2 C1194.1 497.8 1193.3 500.5 1192.2 502.8 C1191.1 505.1 1189.5 507.3 1187.8 509.0 C1186.2 510.6 1184.1 512.0 1182.1 512.7 C1180.2 513.4 1177.9 513.7 1175.9 513.4 C1173.9 513.1 1171.9 512.3 1170.2 511.0 C1168.5 509.8 1166.9 507.9 1165.7 505.9 C1164.6 503.8 1163.7 501.3 1163.2 498.8 C1162.8 496.3 1162.8 493.4 1163.2 490.8 C1163.5 488.2 1164.3 485.5 1165.4 483.2 C1166.5 480.9 1168.1 478.7 1169.8 477.0 C1171.4 475.4 1173.5 474.0 1175.5 473.3 C1177.4 472.6 1179.7 472.3 1181.7 472.6 C1183.7 472.9 1185.7 473.7 1187.4 475.0 C1189.1 476.2 1190.7 478.1 1191.9 480.1 C1193.0 482.2 1193.9 484.7 1194.4 487.2 C1194.8 489.7 1194.8 492.6 1194.4 495.2 Z M814.0 255.8 C813.7 256.9 813.1 257.9 812.4 258.8 C811.7 259.6 810.7 260.4 809.6 260.9 C808.6 261.4 807.3 261.8 806.1 261.9 C804.9 262.0 803.5 261.8 802.3 261.5 C801.1 261.2 799.9 260.6 798.8 259.9 C797.8 259.2 796.9 258.3 796.3 257.3 C795.6 256.3 795.1 255.2 794.9 254.1 C794.7 253.0 794.8 251.8 795.0 250.8 C795.3 249.7 795.9 248.7 796.6 247.8 C797.3 247.0 798.3 246.2 799.4 245.7 C800.4 245.2 801.7 244.8 802.9 244.7 C804.1 244.6 805.5 244.8 806.7 245.1 C807.9 245.4 809.1 246.0 810.2 246.7 C811.2 247.4 812.1 248.3 812.7 249.3 C813.4 250.3 813.9 251.4 814.1 252.5 C814.3 253.6 814.2 254.8 814.0 255.8 Z M1179.7 288.3 C1179.3 289.3 1178.7 290.3 1178.0 291.1 C1177.3 291.8 1176.3 292.5 1175.3 292.9 C1174.3 293.4 1173.2 293.6 1172.1 293.6 C1171.0 293.7 1169.8 293.5 1168.8 293.1 C1167.8 292.7 1166.7 292.1 1165.9 291.4 C1165.1 290.7 1164.4 289.7 1163.9 288.8 C1163.4 287.8 1163.1 286.7 1163.1 285.6 C1163.0 284.6 1163.2 283.4 1163.5 282.5 C1163.9 281.5 1164.5 280.5 1165.2 279.7 C1165.9 279.0 1166.9 278.3 1167.9 277.9 C1168.9 277.4 1170.0 277.2 1171.1 277.2 C1172.2 277.1 1173.4 277.3 1174.4 277.7 C1175.4 278.1 1176.5 278.7 1177.3 279.4 C1178.1 280.1 1178.8 281.1 1179.3 282.0 C1179.8 283.0 1180.1 284.1 1180.1 285.2 C1180.2 286.2 1180.0 287.4 1179.7 288.3 Z M1199.8 87.7 C1200.2 89.9 1200.2 92.3 1199.8 94.5 C1199.4 96.6 1198.7 98.9 1197.6 100.6 C1196.5 102.4 1195.1 104.1 1193.5 105.2 C1191.9 106.4 1189.9 107.2 1188.0 107.5 C1186.2 107.9 1184.0 107.8 1182.2 107.2 C1180.3 106.7 1178.3 105.6 1176.7 104.3 C1175.1 103.0 1173.6 101.2 1172.5 99.3 C1171.4 97.4 1170.6 95.1 1170.2 92.9 C1169.8 90.7 1169.8 88.3 1170.2 86.1 C1170.6 84.0 1171.3 81.7 1172.4 80.0 C1173.5 78.2 1174.9 76.5 1176.5 75.4 C1178.1 74.2 1180.1 73.4 1182.0 73.1 C1183.8 72.7 1186.0 72.8 1187.8 73.4 C1189.7 73.9 1191.7 75.0 1193.3 76.3 C1194.9 77.6 1196.4 79.4 1197.5 81.3 C1198.6 83.2 1199.4 85.5 1199.8 87.7 Z M1254.0 285.0 C1249.1 291.7 1259.2 302.5 1260.7 310.0 C1262.2 317.5 1262.8 324.2 1263.3 330.0 C1263.8 335.8 1259.5 342.5 1264.0 345.0 C1268.5 347.5 1285.7 357.5 1290.0 345.0 C1294.3 332.5 1296.0 280.0 1290.0 270.0 C1284.0 260.0 1258.9 278.3 1254.0 285.0 Z" stroke="#4FA4FA" stroke-width="5.0"/>
<path d="M905.3 276.7 C898.3 270.6 887.5 260.0 882.0 253.3 C876.5 246.6 874.0 242.0 872.0 236.7 C870.0 231.4 869.5 226.4 870.3 221.7 C871.1 217.0 873.4 211.6 877.0 208.3 C880.6 205.0 886.2 202.8 892.0 201.7 C897.8 200.6 905.3 200.9 912.0 201.7 C918.7 202.5 925.3 205.3 932.0 206.7 C938.7 208.1 944.8 209.7 952.0 210.0 C959.2 210.3 968.6 210.0 975.3 208.3 C982.0 206.6 987.0 204.2 992.0 200.0 C997.0 195.8 1001.4 188.9 1005.3 183.3 C1009.2 177.8 1012.2 170.9 1015.3 166.7 C1018.4 162.5 1019.8 159.8 1024.0 158.0 C1028.2 156.2 1035.2 154.8 1040.7 156.0 C1046.2 157.2 1051.8 160.7 1057.3 165.0 C1062.8 169.3 1067.3 176.1 1074.0 181.7 C1080.7 187.2 1089.5 193.0 1097.3 198.3 C1105.1 203.6 1114.6 208.6 1120.7 213.3 C1126.8 218.0 1131.5 222.2 1134.0 226.7 C1136.5 231.1 1136.5 234.4 1135.7 240.0 C1134.9 245.6 1131.0 253.9 1129.0 260.0 C1127.0 266.1 1125.4 271.4 1124.0 276.7 C1122.6 282.0 1121.2 286.4 1120.7 292.0 C1120.2 297.6 1119.6 303.1 1120.7 310.0 C1121.8 316.9 1125.5 325.5 1127.3 333.3 C1129.1 341.1 1131.3 350.0 1131.3 356.7 C1131.3 363.4 1130.2 368.3 1127.3 373.3 C1124.4 378.3 1119.0 382.8 1114.0 386.7 C1109.0 390.6 1102.3 392.5 1097.3 396.7 C1092.3 400.9 1088.4 408.1 1084.0 411.7 C1079.6 415.3 1075.2 418.3 1070.7 418.3 C1066.2 418.3 1061.2 415.9 1057.3 411.7 C1053.4 407.5 1050.6 399.7 1047.3 393.3 C1044.0 386.9 1041.2 378.9 1037.3 373.3 C1033.4 367.8 1031.0 365.0 1024.0 360.0 C1017.0 355.0 1002.8 349.4 995.3 343.3 C987.8 337.2 984.2 328.9 978.7 323.3 C973.2 317.8 968.1 313.3 962.0 310.0 C955.9 306.7 948.4 306.6 942.0 303.3 C935.6 300.0 929.8 294.4 923.7 290.0 C917.6 285.6 912.2 282.8 905.3 276.7 Z M756.0 286.5 C758.0 283.1 762.0 278.5 766.5 276.5 C771.0 274.5 777.7 273.1 783.2 274.5 C788.8 275.9 793.5 281.0 799.8 284.8 C806.0 288.6 815.8 293.1 820.7 297.3 C825.6 301.5 828.3 305.6 829.0 309.8 C829.7 314.0 828.3 319.2 824.8 322.3 C821.3 325.4 814.6 328.7 808.2 328.5 C801.8 328.3 793.0 323.4 786.5 321.0 C780.0 318.6 774.0 316.7 769.3 314.3 C764.6 311.9 760.9 309.4 758.4 306.5 C755.9 303.6 754.9 300.4 754.5 297.1 C754.1 293.8 754.0 289.9 756.0 286.5 Z M812.0 402.3 C816.5 403.2 823.5 405.9 828.0 410.0 C832.5 414.1 837.4 421.7 838.7 426.7 C840.0 431.7 837.7 436.1 836.0 440.0 C834.3 443.9 832.0 447.2 828.7 450.0 C825.4 452.8 820.5 455.3 816.0 457.0 C811.5 458.7 806.0 460.2 802.0 460.0 C798.0 459.8 794.5 457.7 792.0 456.0 C789.5 454.3 788.3 452.7 787.0 450.0 C785.7 447.3 784.3 443.3 784.0 440.0 C783.7 436.7 784.6 433.3 785.3 430.0 C786.0 426.7 786.9 423.1 788.0 420.0 C789.1 416.9 789.8 414.3 792.0 411.7 C794.2 409.1 797.7 406.1 801.0 404.5 C804.3 402.9 807.5 401.4 812.0 402.3 Z M772.0 466.7 C776.2 467.9 780.1 471.9 782.0 475.0 C783.9 478.1 783.7 481.7 783.5 485.0 C783.3 488.3 782.5 491.6 781.0 495.0 C779.5 498.4 777.7 502.0 774.3 505.4 C770.9 508.8 765.5 512.8 760.6 515.2 C755.7 517.6 749.5 518.0 745.0 520.0 C740.5 522.0 736.5 524.1 733.3 526.9 C730.0 529.7 728.1 534.0 725.5 536.6 C722.9 539.2 720.6 541.5 717.7 542.5 C714.8 543.5 710.7 543.8 707.9 542.5 C705.1 541.2 702.4 537.6 701.1 534.7 C699.8 531.8 699.0 528.1 700.1 524.9 C701.2 521.6 704.3 518.5 707.9 515.2 C711.5 512.0 718.2 509.3 721.6 505.4 C725.0 501.5 726.1 495.9 728.4 491.7 C730.7 487.5 732.4 483.3 735.2 480.0 C738.0 476.7 741.4 474.1 745.0 472.0 C748.6 469.9 752.5 468.4 757.0 467.5 C761.5 466.6 767.8 465.4 772.0 466.7 Z M1198.9 211.3 C1199.5 214.0 1199.4 217.0 1198.7 219.7 C1198.0 222.4 1196.5 225.2 1194.6 227.6 C1192.7 230.0 1190.1 232.2 1187.3 233.9 C1184.5 235.5 1181.2 236.8 1177.9 237.5 C1174.7 238.2 1171.1 238.4 1167.9 238.0 C1164.6 237.6 1161.3 236.6 1158.6 235.3 C1156.0 233.9 1153.5 231.9 1151.7 229.7 C1149.9 227.5 1148.6 224.8 1148.1 222.1 C1147.5 219.4 1147.6 216.4 1148.3 213.7 C1149.0 211.0 1150.5 208.2 1152.4 205.8 C1154.3 203.4 1156.9 201.2 1159.7 199.5 C1162.5 197.9 1165.8 196.6 1169.1 195.9 C1172.3 195.2 1175.9 195.0 1179.1 195.4 C1182.4 195.8 1185.7 196.8 1188.4 198.1 C1191.0 199.5 1193.5 201.5 1195.3 203.7 C1197.1 205.9 1198.4 208.6 1198.9 211.3 Z M1121.3 507.0 C1121.3 511.0 1120.5 515.2 1119.1 518.9 C1117.7 522.5 1115.5 526.1 1113.0 528.9 C1110.4 531.7 1107.1 534.1 1103.7 535.6 C1100.3 537.2 1096.4 538.0 1092.8 538.0 C1089.2 538.0 1085.3 537.2 1081.9 535.6 C1078.5 534.1 1075.2 531.7 1072.6 528.9 C1070.1 526.1 1067.9 522.5 1066.5 518.9 C1065.1 515.2 1064.3 511.0 1064.3 507.0 C1064.3 503.0 1065.1 498.8 1066.5 495.1 C1067.9 491.5 1070.1 487.9 1072.6 485.1 C1075.2 482.3 1078.5 479.9 1081.9 478.4 C1085.3 476.8 1089.2 476.0 1092.8 476.0 C1096.4 476.0 1100.3 476.8 1103.7 478.4 C1107.1 479.9 1110.4 482.3 1113.0 485.1 C1115.5 487.9 1117.7 491.5 1119.1 495.1 C1120.5 498.8 1121.3 503.0 1121.3 507.0 Z M1273.9 490.4 C1273.5 495.1 1272.3 500.1 1270.6 504.3 C1268.9 508.5 1266.5 512.6 1263.7 515.7 C1261.0 518.8 1257.6 521.4 1254.3 523.0 C1251.0 524.5 1247.2 525.2 1243.8 524.9 C1240.3 524.6 1236.7 523.2 1233.7 521.2 C1230.7 519.1 1227.8 515.9 1225.7 512.4 C1223.6 508.9 1221.8 504.4 1220.9 499.9 C1220.0 495.5 1219.7 490.3 1220.1 485.6 C1220.5 480.9 1221.7 475.9 1223.4 471.7 C1225.1 467.5 1227.5 463.4 1230.3 460.3 C1233.0 457.2 1236.4 454.6 1239.7 453.0 C1243.0 451.5 1246.8 450.8 1250.2 451.1 C1253.7 451.4 1257.3 452.8 1260.3 454.8 C1263.3 456.9 1266.2 460.1 1268.3 463.6 C1270.4 467.1 1272.2 471.6 1273.1 476.1 C1274.0 480.5 1274.3 485.7 1273.9 490.4 Z M842.7 579.6 C843.0 576.0 845.1 571.0 847.5 567.9 C849.9 564.8 853.7 562.6 857.3 561.1 C860.9 559.6 865.2 558.8 869.0 559.1 C872.8 559.4 876.5 560.7 879.8 563.0 C883.1 565.3 886.3 569.0 888.6 572.8 C890.9 576.5 892.4 581.8 893.4 585.5 C894.4 589.2 895.0 592.4 894.4 595.2 C893.8 598.0 891.6 600.6 889.5 602.1 C887.4 603.6 885.6 604.4 881.7 604.5 C877.8 604.6 871.0 604.2 866.0 603.0 C861.0 601.8 855.3 599.3 852.0 597.0 C848.7 594.7 847.5 592.3 846.0 589.4 C844.5 586.5 842.5 583.2 842.7 579.6 Z M965.0 532.5 C969.6 532.4 974.2 532.8 980.0 534.5 C985.8 536.2 993.3 539.9 1000.0 542.5 C1006.7 545.1 1013.3 548.1 1020.0 550.0 C1026.7 551.9 1033.3 553.0 1040.0 553.8 C1046.7 554.6 1054.6 553.8 1060.0 555.0 C1065.4 556.2 1069.4 558.0 1072.5 561.3 C1075.6 564.6 1078.0 569.8 1078.8 575.0 C1079.6 580.2 1079.0 586.2 1077.5 592.5 C1076.0 598.8 1073.3 606.7 1070.0 612.5 C1066.7 618.3 1062.5 623.5 1057.5 627.5 C1052.5 631.5 1046.2 635.1 1040.0 636.3 C1033.8 637.5 1026.7 635.1 1020.0 634.5 C1013.3 633.9 1006.2 633.2 1000.0 632.5 C993.8 631.8 987.5 631.7 982.5 630.0 C977.5 628.3 973.8 626.2 970.0 622.5 C966.2 618.8 963.8 612.9 960.0 607.5 C956.2 602.1 951.0 595.4 947.5 590.0 C944.0 584.6 940.5 580.0 938.8 575.0 C937.0 570.0 936.4 565.0 937.0 560.0 C937.6 555.0 939.9 549.2 942.5 545.0 C945.1 540.8 948.8 537.1 952.5 535.0 C956.2 532.9 960.4 532.6 965.0 532.5 Z" stroke="#4F82F2" stroke-width="6.0"/>
<path d="M1025.0 563.8 C1030.8 563.4 1035.4 563.8 1040.0 565.0 C1044.6 566.2 1049.2 568.4 1052.5 571.3 C1055.8 574.2 1058.5 578.1 1060.0 582.5 C1061.5 586.9 1062.1 592.5 1061.3 597.5 C1060.5 602.5 1058.1 608.5 1055.0 612.5 C1051.9 616.5 1047.5 619.4 1042.5 621.3 C1037.5 623.2 1030.8 624.2 1025.0 623.8 C1019.2 623.4 1012.5 621.5 1007.5 618.8 C1002.5 616.1 998.0 611.9 995.0 607.5 C992.0 603.1 989.9 597.5 989.5 592.5 C989.1 587.5 989.9 581.7 992.5 577.5 C995.1 573.3 999.6 569.8 1005.0 567.5 C1010.4 565.2 1019.2 564.2 1025.0 563.8 Z" stroke="#5569EE" stroke-width="6.4"/>
<path d="M1043.2 314.6 C1043.2 316.7 1042.1 319.4 1040.6 320.9 C1039.1 322.4 1036.4 323.5 1034.3 323.5 C1032.2 323.5 1029.5 322.4 1028.0 320.9 C1026.5 319.4 1025.4 316.7 1025.4 314.6 C1025.4 312.5 1026.5 309.8 1028.0 308.3 C1029.5 306.8 1032.2 305.7 1034.3 305.7 C1036.4 305.7 1039.1 306.8 1040.6 308.3 C1042.1 309.8 1043.2 312.5 1043.2 314.6 Z" stroke="#5569EE" stroke-width="8.4"/>
<path d="M1044.3 594.5 C1044.3 596.6 1043.8 598.9 1042.9 600.9 C1042.1 602.9 1040.7 604.8 1039.1 606.3 C1037.5 607.8 1035.4 609.1 1033.3 609.9 C1031.2 610.7 1028.8 611.2 1026.5 611.2 C1024.2 611.2 1021.8 610.7 1019.7 609.9 C1017.6 609.1 1015.5 607.8 1013.9 606.3 C1012.3 604.8 1010.9 602.9 1010.1 600.9 C1009.2 598.9 1008.7 596.6 1008.7 594.5 C1008.7 592.4 1009.2 590.1 1010.1 588.1 C1010.9 586.1 1012.3 584.2 1013.9 582.7 C1015.5 581.2 1017.6 579.9 1019.7 579.1 C1021.8 578.3 1024.2 577.8 1026.5 577.8 C1028.8 577.8 1031.2 578.3 1033.3 579.1 C1035.4 579.9 1037.5 581.2 1039.1 582.7 C1040.7 584.2 1042.1 586.1 1042.9 588.1 C1043.8 590.1 1044.3 592.4 1044.3 594.5 Z" stroke="#5945E7" stroke-width="9.6" fill="#A9CBFA"/>
<path d="M880.3 438.0 L880.3 447.5" stroke="#4FA4FA" stroke-width="5.0"/>
</g>
<ellipse cx="1076.0" cy="263.3" rx="23.8" ry="25.0" fill="#5566EE"/>
<circle cx="1075.3" cy="261.6" r="19.4" fill="#DA2210"/>
<circle cx="1075.3" cy="261.6" r="7.0" fill="#BBDBFC"/>
<circle cx="956.2" cy="672.2" r="3.4" fill="#4F82F2"/>
<g fill="none" stroke="#222" stroke-width="0.7" stroke-linejoin="round">
<path d="M288.3 335.0 L288.3 428.3 L283.3 430.0 L282.7 446.7 L287.3 450.0 L287.3 493.3"/>
<path d="M288.3 380.7 L355.0 380.7 L388.3 382.7"/>
<path d="M373.3 335.0 L373.3 380.7"/>
<path d="M283.3 430.0 L381.7 430.0"/>
<path d="M388.3 382.7 L383.3 396.7 L391.7 398.3 L390.7 415.0 L383.3 418.3 L381.7 430.0 L381.7 468.3 L370.0 483.3 L365.0 493.3"/>
<path d="M287.3 493.3 L405.0 496.0 L405.0 503.3 L426.7 504.3 L426.7 493.3 L428.3 485.0 L470.0 483.3 L512.0 482.7"/>
<path d="M317.3 495.0 L317.3 592.0"/>
<path d="M425.0 504.3 L420.7 592.0"/>
<path d="M391.7 407.3 L421.7 408.3 L425.0 413.3 L421.7 416.7 L470.0 416.0 L471.7 399.3 L493.3 398.3 L512.0 397.3"/>
<path d="M493.3 353.3 L493.3 398.3"/>
<path d="M448.3 416.0 L456.7 430.0 L451.7 436.7 L450.0 463.3 L470.0 468.3 L470.0 483.3"/>
<path d="M493.3 483.3 L495.0 471.7 L500.0 451.7 L512.0 451.0"/>
<path d="M177.0 390.5 L186.7 391.7 L206.7 393.3 L216.7 400.0 L226.7 393.3 L240.0 389.3 L266.7 390.0 L288.3 387.3"/>
<path d="M161.7 488.3 L173.3 491.7 L186.7 493.3 L200.0 506.7 L210.0 511.7 L230.0 505.0 L246.7 501.7 L266.7 497.3 L287.3 493.3"/>
<path d="M176.0 491.7 L176.0 592.0"/>
<path d="M613.9 342.5 L616.3 373.8 L616.3 389.4 L613.1 400.0 L612.7 420.0 L612.0 436.7 L610.3 446.7 L612.0 453.3 L625.3 473.3 L637.0 488.3"/>
<path d="M512.0 401.7 L570.3 401.7 L612.0 400.0"/>
<path d="M570.3 401.7 L572.0 423.3 L565.3 436.7 L563.7 450.0"/>
<path d="M512.0 450.7 L565.3 450.0 L575.3 476.7 L580.3 490.0 L582.0 503.3 L565.3 505.0 L563.7 500.0 L542.0 500.7 L535.3 500.0 L533.7 483.3 L512.0 483.3"/>
<path d="M542.0 500.7 L542.7 540.0 L568.7 538.3 L570.3 592.0"/>
<path d="M580.3 490.0 L618.7 489.3 L637.0 488.3"/>
<path d="M625.3 474.0 L700.3 474.0"/>
<path d="M634.2 328.4 L635.8 356.6 L659.2 357.3 L660.8 362.0 L660.0 373.8 L658.4 376.9 L657.7 386.3 L656.1 389.4 L656.1 400.0 L663.7 405.0 L665.3 431.7 L685.3 433.3 L700.3 446.7 L701.3 474.0 L703.7 516.7"/>
<path d="M660.8 362.0 L691.3 361.3 L696.7 367.2 L701.4 364.4 L701.4 361.3 L711.6 365.6 L713.9 355.0 L731.9 365.9 L752.2 370.6 L754.5 377.7 L757.7 380.0 L753.8 387.8 L767.8 388.6"/>
<path d="M700.3 446.7 L770.3 445.0"/>
<path d="M767.8 388.6 L770.3 445.0 L775.3 490.0 L780.3 546.7"/>
<path d="M618.7 489.3 L622.0 538.3 L670.3 541.7 L672.0 533.3 L698.7 535.0"/>
<path d="M568.7 538.3 L612.0 536.7 L615.3 546.7 L633.7 548.3 L635.3 541.7 L648.7 540.0 L650.3 560.0 L645.3 592.0"/>
<path d="M694.7 515.7 L777.0 514.0"/>
<path d="M694.7 515.7 L695.3 520.0 L725.3 520.0 L732.0 536.7 L733.7 553.3 L730.3 592.0"/>
<path d="M780.3 546.7 L817.0 547.3 L818.7 555.0 L858.7 555.0"/>
<path d="M881.4 451.2 L875.3 467.2 L874.7 482.6 L862.9 495.0 L864.5 510.4 L859.9 532.0 L858.7 555.0 L858.7 580.0 L862.5 592.5"/>
<path d="M988.0 37.5 L1004.6 39.6 L1012.0 83.3 L1015.0 108.3 L1023.3 198.0"/>
<path d="M1023.3 198.0 L1104.6 191.7 L1102.3 160.0 L1100.4 139.6 L1140.0 135.4 L1184.0 133.3 L1210.7 128.3 L1224.0 118.3 L1230.7 115.0"/>
<path d="M1119.2 32.0 L1124.0 66.7 L1130.0 85.0 L1140.7 135.0"/>
<path d="M965.0 204.2 L972.3 270.0 L978.5 310.1 L961.6 341.5 L990.8 351.7 L1020.1 360.9 L1061.7 360.0 L1063.3 364.0 L1080.2 362.4 L1081.7 357.8 L1097.2 357.8"/>
<path d="M906.7 199.2 L912.2 270.0 L913.8 291.6 L920.0 342.4 L909.2 348.6 L906.1 356.3 L923.0 360.9 L893.8 396.3 L896.2 430.2"/>
<path d="M1073.3 195.8 L1076.7 220.0 L1061.3 230.0 L1082.3 251.7 L1109.0 255.0 L1114.0 265.0"/>
<path d="M1083.3 270.0 L1114.0 265.0 L1157.3 261.7 L1237.3 253.3"/>
<path d="M1083.3 270.0 L1094.7 334.7 L1106.4 413.3"/>
<path d="M783.8 145.8 L906.7 199.2 L922.0 207.3 L965.0 204.2 L1023.3 198.0"/>
<path d="M850.4 177.0 L835.8 198.0 L844.2 204.2 L842.0 216.7 L823.0 223.4 L797.3 239.9 L779.4 240.9 L779.4 256.9 L791.1 257.3 L792.2 276.2 L795.3 309.9 L795.1 316.2"/>
<path d="M714.1 276.8 L744.9 279.3 L745.6 273.3 L792.2 276.2"/>
<path d="M840.0 554.5 L858.8 554.5"/>
<path d="M1075.6 515.0 L1100.0 513.4 L1166.2 503.4 L1245.7 496.2"/>
<path d="M1025.0 553.8 L1110.0 573.0 L1117.5 560.5 L1126.3 560.5 L1138.8 567.0"/>
<path d="M1038.8 562.5 L1025.0 563.8 L978.8 588.8 L912.5 618.8"/>
<path d="M978.8 588.8 L1038.8 616.3 L1017.5 638.8 L1052.5 660.0 L1053.8 668.8"/>
<path d="M1164.6 501.8 L1162.9 534.9 L1153.0 548.1 L1138.8 567.5 L1130.0 602.5 L1136.3 620.0 L1133.8 665.0 L1125.0 687.5 L1128.8 697.5 L1132.3 717.3 L1135.7 737.3 L1144.0 754.0 L1142.3 777.3"/>
<path d="M1137.5 576.3 L1175.0 588.8 L1211.3 595.5 L1212.5 583.8 L1221.0 583.0"/>
<path d="M982.5 687.5 L1040.0 683.8 L1047.5 672.5 L1076.3 661.3 L1078.8 666.3 L1101.3 671.3 L1101.3 666.3 L1110.0 666.3 L1115.0 671.3 L1130.0 669.5"/>
<path d="M982.5 687.5 L981.3 701.0"/>
<path d="M1128.8 697.5 L1137.5 688.8 L1210.7 680.7"/>
<path d="M1132.3 719.0 L1209.0 710.7"/>
<path d="M1130.7 719.0 L1082.3 750.7"/>
<path d="M1222.3 799.0 L1235.7 844.0"/>
<path d="M782.8 314.7 L795.1 316.8 L833.7 326.1 L913.8 291.6"/>
<path d="M782.8 314.7 L772.0 344.0 L774.2 362.4 L770.5 374.8"/>
<path d="M770.5 374.8 L792.1 373.2 L815.2 382.5 L821.3 394.8 L832.1 397.9 L834.6 416.4 L855.2 417.3 L856.2 430.2 L892.2 430.2 L896.2 430.2"/>
<path d="M896.2 430.2 L909.2 430.9 L915.3 424.1 L952.3 436.4 L956.9 424.1 L980.0 430.2 L998.5 438.0 L1040.1 448.1 L1075.6 444.1 L1106.4 413.3 L1133.1 424.0"/>
<path d="M990.8 351.7 L992.4 368.6 L987.8 379.4 L981.6 385.6 L981.6 396.3 L1020.1 408.1 L1105.8 408.7"/>
<path d="M981.6 396.3 L984.7 417.9 L980.7 430.2"/>
<path d="M772.0 456.4 L829.0 453.4 L881.4 451.2 L892.2 430.2"/>
<path d="M752.0 445.7 L770.5 445.0"/>
<path d="M859.9 532.0 L878.3 528.9 L899.9 522.7 L921.5 511.9 L933.8 507.3 L949.2 501.1 L967.7 496.5 L990.8 495.6"/>
<path d="M990.8 495.6 L1004.7 471.8 L998.5 445.7 L1001.6 438.0"/>
<path d="M990.8 495.6 L1013.9 513.5 L1040.1 525.2 L1054.0 521.2 L1060.2 523.3 L1074.0 524.2"/>
<path d="M1040.1 525.2 L1034.0 540.0 L1025.0 553.8"/>
<path d="M1077.1 444.1 L1066.3 451.8 L1078.7 458.0 L1091.0 454.9 L1100.0 453.8 L1158.9 445.5"/>
<path d="M1091.0 454.9 L1093.4 467.2 L1083.3 485.7 L1081.7 499.6 L1074.0 513.5 L1074.0 524.2"/>
<path d="M1231.7 254.2 L1220.9 270.0 L1210.9 286.6 L1192.7 299.8 L1191.1 313.0 L1197.7 347.8 L1204.3 385.9 L1192.7 412.4 L1186.8 425.6 L1185.4 442.2 L1177.8 458.7 L1167.9 485.2 L1164.6 501.8"/>
<path d="M1094.7 334.7 L1100.0 332.9 L1145.7 329.6 L1154.6 356.1 L1169.5 360.1 L1175.5 352.8 L1186.1 354.4 L1187.7 349.5 L1198.7 348.5"/>
<path d="M1192.1 415.0 L1232.5 413.0 L1260.6 415.7"/>
<path d="M1106.0 412.4 L1133.1 424.0 L1141.4 421.7 L1142.4 430.6 L1156.3 440.5 L1158.9 445.5 L1171.2 439.5 L1184.4 443.8"/>
<path d="M1140.3 797.4 L1159.0 804.6"/>
<path d="M1141.2 800.1 L1135.9 817.0"/>
<path d="M1131.4 830.4 L1136.8 836.6 L1144.8 841.1 L1148.3 845.5"/>
<path d="M1170.6 822.9 L1176.8 825.9 L1179.0 835.7 L1174.1 853.5"/>
</g>
<path d="M13.0 592.0 L12.7 552.8 L46.9 541.9 L93.8 520.0 L103.9 515.3 L109.4 509.0 L120.3 501.3 L140.6 492.7 L159.4 488.8 L165.6 477.0 L176.6 470.8 L182.0 462.0 L200.0 455.0 L217.0 445.0 L213.0 433.0 L207.0 423.0 L203.0 415.0 L192.0 414.0 L186.0 407.0 L187.0 393.0 L177.0 390.0 L176.0 383.0 L181.0 378.0 L178.0 372.0 L177.0 355.0 L233.0 343.0 L267.0 336.0 L307.0 333.0 L330.0 337.0 L358.0 333.0 L393.0 338.0 L428.0 343.0 L442.0 353.0 L462.0 361.0 L493.0 353.0 L512.0 352.0 L552.0 353.0 L570.0 354.0 L584.0 349.0 L599.0 348.0 L622.0 340.0 L635.0 327.0 L659.0 317.0 L672.0 308.0 L699.0 307.0 L710.0 303.0 L713.1 294.3 L714.1 277.8 L707.0 252.2 L693.6 248.7 L697.7 242.5 L705.9 239.9 L706.0 242.0 L713.1 241.9 L724.4 235.7 L728.5 224.5 L714.1 223.4 L710.0 217.9 L700.8 223.4 L699.8 217.3 L693.6 214.2 L695.7 206.0 L690.5 204.9 L681.9 195.7 L700.8 185.4 L702.9 182.4 L723.4 174.1 L747.0 167.0 L764.5 156.7 L771.6 149.5 L778.8 148.5 L779.9 145.4 L785.0 143.3 L793.2 134.1 L791.5 131.0 L800.0 115.0 L825.0 97.0 L885.0 58.0 L922.0 42.0 L952.0 31.0 L969.0 27.0 L979.0 31.0 L1024.0 31.0 L1245.0 28.0 L1248.0 40.0 L1237.0 43.0 L1241.0 50.0 L1234.0 63.0 L1244.0 67.0 L1239.0 78.0 L1241.0 87.0 L1229.0 83.0 L1231.0 100.0 L1228.0 110.0 L1235.0 122.0 L1234.0 137.0 L1239.0 137.0 L1241.0 147.0 L1248.0 160.0 L1248.0 173.0 L1241.0 180.0 L1232.0 183.0 L1234.0 193.0 L1226.0 210.0 L1232.0 213.0 L1235.0 233.0 L1240.0 247.0 L1237.0 253.0 L1244.0 258.0 L1242.0 267.0 L1236.0 272.0 L1231.0 290.0 L1232.0 297.0 L1237.0 298.0 L1242.0 288.0 L1254.0 287.0 L1256.0 297.0 L1263.0 298.0 L1264.0 312.0 L1259.0 440.0 L1262.0 452.0 L1224.0 552.5 L1217.5 575.0 L1221.3 582.5 L1209.0 727.0 L1221.3 738.7 L1174.7 761.3 L1189.3 779.6 L1183.9 788.5 L1170.6 792.1 L1159.0 804.6 L1159.0 813.5 L1153.7 811.7 L1150.1 817.0 L1141.2 817.9 L1135.9 822.4 L1127.9 833.0 L1121.6 836.6 L1121.6 826.8 L1140.3 795.7 L1142.1 779.6 L1024.0 727.0 L995.0 714.0 L995.0 709.0 L985.0 699.0 L974.0 701.0 L967.5 699.0 L960.0 696.3 L950.0 690.0 L940.0 691.3 L937.5 687.5 L921.3 666.3 L927.5 655.0 L921.3 647.5 L926.3 638.8 L916.3 636.3 L921.3 630.0 L907.5 620.0 L902.5 617.5 L890.0 616.3 L885.0 605.0 L877.5 602.5 L873.8 597.5 L865.0 593.0 L840.0 592.5 Z M1123.4 835.7 L1130.5 827.7 L1137.7 821.5 L1141.2 820.2 L1150.1 822.9 L1156.3 817.6 L1169.7 822.9 L1168.5 811.7 L1176.8 814.0 L1175.0 807.2 L1179.5 804.6 L1189.3 813.5 L1189.6 805.1 L1193.2 798.3 L1212.4 795.1 L1216.3 798.3 L1208.0 801.9 L1221.3 801.9 L1217.4 792.1 L1228.4 792.1 L1229.3 797.4 L1240.0 797.8 L1240.0 794.5 L1236.1 794.2 L1236.1 789.1 L1248.0 794.8 L1249.8 792.1 L1268.5 798.0 L1282.7 792.1 L1282.7 785.9 L1310.0 785.9 L1362.3 786.0 L1379.9 783.1 L1389.5 779.4 L1399.1 773.5 L1408.7 770.0 L1415.9 764.2 L1422.2 763.9 L1434.2 755.1 L1455.8 751.5 L1434.5 756.2 L1431.0 757.5 L1418.2 770.0 L1423.0 773.5 L1416.6 773.5 L1418.2 782.8 L1412.7 779.9 L1408.7 782.8 L1403.1 782.8 L1389.5 791.9 L1380.7 795.1 L1389.5 798.3 L1392.7 795.6 L1399.1 798.3 L1411.9 798.0 L1418.2 788.7 L1423.0 788.4 L1427.0 783.1 L1440.6 779.4 L1436.6 773.5 L1441.4 779.4 L1450.2 779.4 L1451.5 773.5 L1463.0 773.5 L1468.6 770.0 L1481.4 783.1 L1488.6 777.0 L1496.5 777.0 L1502.1 770.3 L1509.3 770.0 L1510.1 767.1 L1515.4 763.6 L1528.8 767.1 L1481.4 783.9 L1448.6 795.6 L1434.2 801.5 L1416.6 807.9 L1418.2 801.5 L1404.7 801.5 L1404.7 807.9 L1395.9 807.9 L1388.7 813.8 L1376.7 813.8 L1376.7 817.1 L1357.5 817.1 L1356.7 820.2 L1346.3 820.2 L1346.3 823.0 L1337.5 829.1 L1328.0 826.6 L1322.4 829.7 L1308.8 826.2 L1305.0 829.5 L1286.3 832.7 L1283.6 835.7 L1267.6 833.2 L1264.0 836.1 L1253.4 838.9 L1236.5 845.2 L1224.9 845.2 L1217.8 847.8 L1208.0 848.2 L1206.2 851.4 L1197.3 851.4 L1187.5 853.9 L1183.9 851.4 L1183.0 854.4 L1169.7 855.3 L1160.8 856.2 L1168.8 851.4 L1156.3 845.2 L1150.1 845.5 L1146.5 851.7 L1141.2 853.9 L1142.0 857.0 L1140.3 858.0 L1121.6 861.2 L1124.3 858.0 L1118.0 851.7 L1123.4 841.0 L1121.6 838.4 Z M1078.0 866.0 L1086.9 861.5 L1089.2 853.5 L1096.3 847.3 L1106.5 848.2 L1112.7 851.4 L1114.2 854.4 L1108.3 861.0 L1099.4 866.9 L1078.9 873.5 Z M1427.8 767.1 L1436.6 760.7 L1442.2 763.9 L1446.2 773.5 L1437.4 770.3 Z M1492.6 732.8 L1497.3 729.6 L1511.7 726.4 L1499.0 733.1 Z M720.3 165.3 L737.8 161.2 L734.7 164.9 L724.4 170.7 Z" fill="none" stroke="#000" stroke-width="2.2" stroke-linejoin="miter"/>
<path d="M1416.6 807.9 L1388.7 815.0 L1337.5 829.7 L1306.4 840.0 L1276.5 848.5 L1254.3 851.7" fill="none" stroke="#000" stroke-width="2.0"/>
<path d="M1264.9 845.2 L1224.9 854.4 L1201.7 857.6 L1174.1 857.6" fill="none" stroke="#000" stroke-width="2.0"/>
<path d="M1169.7 855.3 L1136.8 863.8" fill="none" stroke="#000" stroke-width="2.0"/>
<g clip-path="url(#st)" fill="#4a4a4a" stroke="#4a4a4a" stroke-width="0.5" stroke-linejoin="miter">
<path d="M951.4 46.7 L956.1 41.2 L957.7 43.3 L960.0 34.4 L951.6 38.2 L954.0 39.4 L949.3 45.0Z"/>
<path d="M984.0 46.6 L987.8 41.3 L989.5 43.2 L991.0 34.4 L983.2 38.8 L985.5 39.7 L981.8 45.1Z"/>
<path d="M1015.7 48.2 L1020.1 40.6 L1022.2 42.5 L1022.9 32.7 L1014.8 38.3 L1017.6 39.1 L1013.2 46.7Z"/>
<path d="M1046.7 47.9 L1051.8 40.7 L1053.7 42.8 L1055.3 33.1 L1046.8 38.0 L1049.4 39.1 L1044.4 46.2Z"/>
<path d="M1078.5 47.9 L1083.5 40.7 L1085.4 42.8 L1087.0 33.1 L1078.5 38.0 L1081.1 39.1 L1076.1 46.2Z"/>
<path d="M1109.6 46.4 L1114.7 41.2 L1116.1 43.5 L1119.2 34.8 L1110.5 37.9 L1112.8 39.3 L1107.6 44.4Z"/>
<path d="M1140.1 46.7 L1146.8 41.0 L1148.1 43.6 L1152.2 34.6 L1142.7 37.1 L1144.9 38.8 L1138.2 44.5Z"/>
<path d="M1173.6 45.0 L1177.5 41.7 L1178.5 43.8 L1182.0 36.2 L1173.9 38.3 L1175.8 39.7 L1171.9 43.0Z"/>
<path d="M1210.3 43.6 L1210.3 42.3 L1212.1 42.8 L1209.1 36.6 L1206.1 42.8 L1208.0 42.3 L1208.0 43.6Z"/>
<path d="M1240.1 43.8 L1240.8 42.6 L1242.1 43.9 L1242.7 37.0 L1236.9 40.9 L1238.8 41.4 L1238.1 42.6Z"/>
<path d="M888.0 78.5 L892.6 72.9 L894.2 75.1 L896.5 66.1 L888.1 69.9 L890.5 71.2 L885.8 76.7Z"/>
<path d="M919.7 78.5 L924.4 72.9 L926.0 75.1 L928.3 66.1 L919.9 69.9 L922.2 71.2 L917.6 76.7Z"/>
<path d="M952.0 78.8 L956.2 72.9 L958.0 74.8 L959.5 65.7 L951.5 70.3 L953.9 71.3 L949.8 77.2Z"/>
<path d="M983.2 79.7 L988.3 72.5 L990.2 74.6 L991.8 64.9 L983.3 69.7 L985.9 70.8 L980.9 78.0Z"/>
<path d="M1015.0 81.3 L1020.5 71.8 L1022.8 73.9 L1023.7 63.2 L1014.9 69.3 L1017.9 70.2 L1012.4 79.8Z"/>
<path d="M1044.8 83.7 L1053.2 70.7 L1055.9 73.3 L1057.5 61.0 L1046.9 67.5 L1050.4 68.8 L1041.9 81.8Z"/>
<path d="M1076.6 82.6 L1084.7 71.2 L1087.1 73.8 L1089.0 62.0 L1078.7 67.9 L1082.0 69.3 L1073.9 80.8Z"/>
<path d="M1107.9 80.0 L1115.7 72.2 L1117.4 74.9 L1121.0 64.8 L1110.9 68.4 L1113.5 70.1 L1105.7 77.9Z"/>
<path d="M1138.3 78.9 L1147.3 72.5 L1148.6 75.4 L1153.8 66.1 L1143.3 67.9 L1145.6 70.0 L1136.6 76.4Z"/>
<path d="M1179.5 73.3 L1181.4 72.2 L1175.4 69.5 L1177.0 75.9 L1178.4 74.2Z"/>
<path d="M1210.3 75.5 L1210.3 74.1 L1212.1 74.5 L1209.1 68.3 L1206.1 74.5 L1208.0 74.1 L1208.0 75.5Z"/>
<path d="M823.9 109.9 L829.1 104.8 L830.5 107.0 L833.5 98.3 L824.8 101.4 L827.1 102.8 L822.0 108.0Z"/>
<path d="M856.5 109.9 L860.7 104.9 L862.3 106.9 L864.5 98.3 L856.4 102.0 L858.6 103.1 L854.4 108.1Z"/>
<path d="M889.1 109.7 L892.4 105.0 L894.0 106.8 L895.4 98.3 L887.9 102.6 L890.2 103.5 L886.9 108.2Z"/>
<path d="M920.8 109.7 L924.1 105.0 L925.8 106.8 L927.2 98.3 L919.7 102.6 L921.9 103.5 L918.6 108.2Z"/>
<path d="M953.1 109.9 L956.0 104.9 L957.8 106.6 L958.4 98.0 L951.3 102.9 L953.7 103.6 L950.8 108.6Z"/>
<path d="M984.3 109.7 L987.6 105.0 L989.3 106.8 L990.7 98.3 L983.2 102.6 L985.4 103.5 L982.1 108.2Z"/>
<path d="M1015.8 110.2 L1019.5 104.8 L1021.2 106.7 L1022.7 97.9 L1014.9 102.3 L1017.3 103.3 L1013.6 108.6Z"/>
<path d="M1047.3 110.6 L1051.4 104.6 L1053.2 106.6 L1054.7 97.5 L1046.7 102.0 L1049.1 103.0 L1045.0 109.0Z"/>
<path d="M1078.1 110.7 L1083.3 104.5 L1084.9 106.7 L1087.3 97.5 L1078.6 101.5 L1081.1 102.7 L1075.9 108.9Z"/>
<path d="M1109.6 109.9 L1114.7 104.8 L1116.1 107.0 L1119.2 98.3 L1110.5 101.4 L1112.8 102.8 L1107.6 108.0Z"/>
<path d="M1142.2 108.1 L1145.5 105.4 L1146.5 107.4 L1149.9 100.1 L1142.1 102.1 L1143.9 103.5 L1140.6 106.2Z"/>
<path d="M1178.9 105.7 L1181.1 105.3 L1176.3 100.7 L1175.7 107.3 L1177.6 106.2Z"/>
<path d="M1210.6 105.7 L1212.8 105.3 L1208.1 100.7 L1207.4 107.3 L1209.3 106.2Z"/>
<path d="M791.3 141.6 L797.4 136.5 L798.7 138.9 L802.6 130.3 L793.4 132.6 L795.6 134.3 L789.5 139.5Z"/>
<path d="M824.2 141.3 L828.9 136.7 L830.2 138.9 L833.2 130.5 L824.8 133.4 L826.9 134.8 L822.3 139.4Z"/>
<path d="M857.3 141.5 L860.6 136.8 L862.3 138.6 L863.7 130.1 L856.2 134.3 L858.5 135.3 L855.2 140.0Z"/>
<path d="M889.8 141.3 L892.3 136.9 L894.1 138.5 L894.7 130.2 L887.8 134.9 L890.1 135.6 L887.6 140.0Z"/>
<path d="M922.3 140.9 L924.1 137.1 L925.9 138.5 L925.8 130.4 L919.6 135.5 L921.8 136.0 L920.0 139.9Z"/>
<path d="M954.2 140.5 L955.7 137.3 L957.4 138.6 L957.3 130.9 L951.3 135.8 L953.4 136.2 L952.0 139.4Z"/>
<path d="M986.5 140.1 L987.5 137.5 L989.2 138.6 L988.5 131.2 L983.2 136.4 L985.2 136.6 L984.3 139.2Z"/>
<path d="M1019.1 139.6 L1019.5 137.6 L1021.3 138.4 L1019.4 131.5 L1015.2 137.3 L1017.2 137.2 L1016.8 139.1Z"/>
<path d="M1048.8 139.8 L1050.4 137.5 L1051.8 139.1 L1053.0 131.7 L1046.5 135.4 L1048.4 136.1 L1046.8 138.4Z"/>
<path d="M1078.7 141.6 L1082.9 136.7 L1084.4 138.7 L1086.7 130.0 L1078.5 133.7 L1080.8 134.9 L1076.6 139.9Z"/>
<path d="M1109.4 140.9 L1114.4 136.8 L1115.6 139.0 L1119.3 130.9 L1110.6 133.1 L1112.7 134.7 L1107.7 138.9Z"/>
<path d="M1142.3 139.3 L1145.1 137.3 L1145.9 139.3 L1149.7 132.5 L1142.1 133.8 L1143.7 135.2 L1140.8 137.3Z"/>
<path d="M1175.4 138.5 L1176.4 137.7 L1177.2 139.4 L1180.1 133.2 L1173.4 134.9 L1174.9 136.0 L1174.0 136.8Z"/>
<path d="M1210.3 139.0 L1210.3 137.6 L1212.1 138.0 L1209.1 131.8 L1206.1 138.0 L1208.0 137.6 L1208.0 139.0Z"/>
<path d="M759.8 172.3 L765.1 168.6 L766.1 170.9 L770.5 163.2 L761.7 164.6 L763.6 166.3 L758.2 170.1Z"/>
<path d="M794.8 170.5 L795.8 169.6 L796.8 171.2 L799.0 164.6 L792.5 166.9 L794.1 167.9 L793.1 168.9Z"/>
<path d="M831.4 169.2 L830.5 168.1 L832.2 167.3 L825.9 164.4 L827.6 171.1 L828.8 169.6 L829.7 170.7Z"/>
<path d="M859.9 172.3 L860.8 168.9 L862.7 170.0 L861.3 162.4 L856.2 168.2 L858.4 168.3 L857.5 171.7Z"/>
<path d="M892.1 172.3 L892.7 168.9 L894.7 169.7 L892.6 162.3 L888.1 168.5 L890.2 168.4 L889.6 171.9Z"/>
<path d="M925.3 170.9 L925.0 168.9 L926.9 169.0 L922.8 163.2 L920.8 170.1 L922.6 169.3 L923.0 171.3Z"/>
<path d="M958.8 166.0 L957.4 166.0 L957.8 164.2 L951.6 167.2 L957.8 170.2 L957.4 168.3 L958.8 168.3Z"/>
<path d="M990.5 166.0 L989.1 166.0 L989.6 164.2 L983.3 167.2 L989.6 170.2 L989.1 168.3 L990.5 168.3Z"/>
<path d="M1019.7 169.1 L1022.3 169.4 L1017.9 165.2 L1017.3 171.2 L1019.1 169.3Z"/>
<path d="M1051.8 168.9 L1054.4 168.7 L1049.3 165.3 L1049.8 171.4 L1051.2 169.2Z"/>
<path d="M1079.1 171.3 L1081.8 169.1 L1082.8 171.0 L1086.0 164.0 L1078.5 165.9 L1080.2 167.2 L1077.5 169.4Z"/>
<path d="M1108.9 172.3 L1114.3 168.6 L1115.2 170.9 L1119.6 163.2 L1110.8 164.6 L1112.7 166.3 L1107.4 170.1Z"/>
<path d="M1140.8 170.9 L1145.3 168.8 L1145.8 171.1 L1151.1 164.6 L1142.7 164.6 L1144.2 166.4 L1139.7 168.5Z"/>
<path d="M1174.8 170.4 L1176.4 169.3 L1177.2 171.1 L1180.7 164.9 L1173.6 166.0 L1175.1 167.4 L1173.4 168.5Z"/>
<path d="M1211.9 169.7 L1211.2 168.5 L1213.0 168.0 L1207.3 164.1 L1207.8 171.0 L1209.2 169.7 L1209.9 170.9Z"/>
<path d="M1237.3 168.3 L1238.7 168.3 L1238.2 170.2 L1244.5 167.2 L1238.2 164.2 L1238.7 166.0 L1237.3 166.0Z"/>
<path d="M697.9 202.8 L700.8 200.8 L701.6 202.8 L705.4 196.1 L697.7 197.3 L699.3 198.8 L696.5 200.8Z"/>
<path d="M730.0 203.1 L732.7 200.9 L733.7 202.8 L736.9 195.7 L729.3 197.7 L731.1 199.0 L728.4 201.2Z"/>
<path d="M762.2 202.9 L764.3 201.0 L765.3 202.8 L768.1 195.9 L761.0 198.0 L762.7 199.2 L760.6 201.1Z"/>
<path d="M795.4 202.6 L796.2 201.4 L797.4 202.8 L798.6 196.0 L792.5 199.4 L794.3 200.1 L793.5 201.2Z"/>
<path d="M831.7 199.6 L830.8 199.1 L832.1 197.8 L825.3 197.3 L829.1 202.9 L829.7 201.1 L830.6 201.6Z"/>
<path d="M863.6 197.8 L862.2 197.8 L862.6 196.0 L856.4 199.0 L862.6 202.0 L862.2 200.1 L863.6 200.1Z"/>
<path d="M895.3 197.8 L893.9 197.8 L894.3 196.0 L888.1 199.0 L894.3 202.0 L893.9 200.1 L895.3 200.1Z"/>
<path d="M927.1 197.8 L925.7 197.8 L926.1 196.0 L919.9 199.0 L926.1 202.0 L925.7 200.1 L927.1 200.1Z"/>
<path d="M958.8 197.8 L957.4 197.8 L957.8 196.0 L951.6 199.0 L957.8 202.0 L957.4 200.1 L958.8 200.1Z"/>
<path d="M990.5 197.8 L989.1 197.8 L989.6 196.0 L983.3 199.0 L989.6 202.0 L989.1 200.1 L990.5 200.1Z"/>
<path d="M1018.7 200.2 L1021.1 202.7 L1018.7 197.7 L1016.3 202.7Z"/>
<path d="M1051.9 199.6 L1054.7 198.5 L1049.0 198.1 L1052.2 202.9 L1051.8 199.9Z"/>
<path d="M1082.4 200.6 L1084.7 202.5 L1082.2 197.3 L1079.6 202.5 L1082.0 200.6Z"/>
<path d="M1111.0 202.0 L1112.8 201.0 L1113.3 202.9 L1117.4 197.0 L1110.2 197.5 L1111.6 198.9 L1109.8 199.9Z"/>
<path d="M1142.5 201.7 L1144.3 200.9 L1144.7 202.8 L1149.3 197.3 L1142.1 197.2 L1143.3 198.7 L1141.5 199.6Z"/>
<path d="M1175.7 200.3 L1175.8 202.9 L1179.2 197.9 L1173.2 198.3 L1175.3 199.7Z"/>
<path d="M1210.9 202.3 L1210.6 200.9 L1212.5 201.0 L1208.5 195.4 L1206.6 202.1 L1208.4 201.3 L1208.6 202.7Z"/>
<path d="M733.8 235.3 L734.1 232.6 L736.0 233.2 L733.4 226.2 L729.6 232.6 L731.7 232.3 L731.4 235.1Z"/>
<path d="M765.2 234.9 L765.6 232.9 L767.4 233.7 L765.5 226.8 L761.3 232.6 L763.2 232.5 L762.9 234.5Z"/>
<path d="M795.1 234.2 L796.0 233.1 L797.1 234.7 L798.8 228.0 L792.5 230.8 L794.2 231.7 L793.3 232.7Z"/>
<path d="M826.6 230.3 L824.1 231.9 L829.8 231.3 L825.8 227.2 L826.8 230.0Z"/>
<path d="M861.6 231.1 L864.2 229.6 L858.4 230.2 L862.4 234.3 L861.5 231.5Z"/>
<path d="M891.7 231.7 L894.1 234.6 L891.7 229.7 L889.4 234.6Z"/>
<path d="M922.5 232.1 L923.1 235.0 L924.5 229.5 L919.3 231.8 L922.3 231.9Z"/>
<path d="M954.3 232.1 L954.9 235.0 L956.3 229.5 L951.0 231.8 L954.0 231.9Z"/>
<path d="M986.3 232.2 L987.3 235.0 L987.8 229.3 L983.0 232.5 L985.9 232.1Z"/>
<path d="M1019.4 232.2 L1022.2 233.2 L1018.1 229.2 L1017.5 234.9 L1019.1 232.3Z"/>
<path d="M1051.4 230.7 L1054.3 228.4 L1049.4 230.7 L1054.3 233.1Z"/>
<path d="M1084.6 231.3 L1086.1 229.7 L1079.5 229.2 L1083.2 234.6 L1083.9 232.6Z"/>
<path d="M1115.3 232.4 L1117.8 232.3 L1112.8 228.9 L1113.3 234.9 L1114.7 232.8Z"/>
<path d="M1147.0 232.4 L1149.6 232.3 L1144.6 228.9 L1145.0 234.9 L1146.4 232.8Z"/>
<path d="M1178.1 232.2 L1180.9 233.2 L1176.8 229.2 L1176.2 234.9 L1177.8 232.3Z"/>
<path d="M1205.5 230.0 L1206.6 230.6 L1205.3 232.0 L1212.2 232.5 L1208.3 226.8 L1207.8 228.6 L1206.7 228.0Z"/>
<path d="M735.4 266.5 L734.6 263.9 L736.7 263.8 L731.9 258.1 L730.5 265.5 L732.3 264.5 L733.0 267.2Z"/>
<path d="M765.9 266.0 L765.9 264.7 L767.7 265.2 L764.8 259.0 L761.8 265.2 L763.6 264.7 L763.6 266.0Z"/>
<path d="M794.2 267.1 L796.5 264.4 L797.8 266.2 L799.7 258.7 L792.7 261.9 L794.6 262.8 L792.3 265.5Z"/>
<path d="M831.8 261.3 L830.4 261.3 L830.9 259.5 L824.6 262.5 L830.9 265.5 L830.4 263.6 L831.8 263.6Z"/>
<path d="M859.3 260.0 L857.1 259.6 L860.0 265.6 L862.9 259.6 L860.7 260.0Z"/>
<path d="M894.2 263.1 L895.6 261.4 L889.0 260.9 L892.8 266.4 L893.5 264.3Z"/>
<path d="M922.0 263.2 L921.0 266.1 L925.0 261.9 L919.3 261.3 L921.8 262.9Z"/>
<path d="M954.2 262.5 L951.4 264.8 L956.2 262.5 L951.4 260.1Z"/>
<path d="M985.6 263.5 L985.1 266.4 L988.4 261.7 L982.6 262.1 L985.4 263.1Z"/>
<path d="M1019.7 262.5 L1022.5 260.1 L1017.7 262.5 L1022.5 264.8Z"/>
<path d="M1052.1 262.3 L1054.0 260.0 L1048.8 262.5 L1054.0 265.0 L1052.1 262.7Z"/>
<path d="M1082.2 263.5 L1084.5 266.3 L1082.2 261.5 L1079.8 266.3Z"/>
<path d="M1143.8 260.7 L1141.7 261.4 L1147.2 265.2 L1146.7 258.6 L1145.0 260.0Z"/>
<path d="M1174.2 260.5 L1175.1 261.6 L1173.4 262.4 L1179.7 265.2 L1178.0 258.5 L1176.9 260.1 L1176.0 259.0Z"/>
<path d="M1205.7 261.1 L1206.7 261.9 L1205.2 263.0 L1211.8 264.7 L1209.0 258.5 L1208.1 260.2 L1207.2 259.4Z"/>
<path d="M1237.4 263.6 L1238.6 263.6 L1238.2 265.5 L1244.4 262.5 L1238.2 259.5 L1238.6 261.3 L1237.4 261.3Z"/>
<path d="M735.8 296.8 L735.1 295.6 L736.9 295.0 L731.2 291.1 L731.7 298.0 L733.1 296.7 L733.8 298.0Z"/>
<path d="M768.2 294.9 L767.3 294.4 L768.6 293.1 L761.9 292.6 L765.7 298.2 L766.2 296.4 L767.1 296.9Z"/>
<path d="M794.1 295.0 L793.6 297.1 L799.6 294.3 L793.6 291.4 L794.1 293.6Z"/>
<path d="M830.4 295.7 L832.3 294.6 L826.2 291.9 L827.9 298.3 L829.3 296.6Z"/>
<path d="M862.4 294.9 L863.9 293.2 L857.3 292.7 L861.0 298.2 L861.7 296.1Z"/>
<path d="M893.1 295.9 L895.7 295.8 L890.6 292.4 L891.1 298.4 L892.5 296.3Z"/>
<path d="M924.4 296.0 L927.0 296.6 L922.8 292.5 L922.2 298.4 L923.9 296.1Z"/>
<path d="M954.8 295.9 L956.4 298.4 L955.8 292.7 L951.6 296.7 L954.5 295.7Z"/>
<path d="M986.9 295.3 L989.3 298.1 L986.9 293.3 L984.6 298.1Z"/>
<path d="M1019.7 294.3 L1022.5 291.9 L1017.7 294.3 L1022.5 296.6Z"/>
<path d="M1051.4 294.3 L1054.3 291.9 L1049.4 294.3 L1054.3 296.6Z"/>
<path d="M1081.3 294.8 L1080.0 298.2 L1083.0 293.8 L1077.7 294.1Z"/>
<path d="M1113.9 295.3 L1116.2 298.1 L1113.9 293.3 L1111.5 298.1Z"/>
<path d="M1143.6 293.5 L1141.5 294.9 L1147.5 295.3 L1144.1 290.3 L1144.0 292.9Z"/>
<path d="M1177.6 291.7 L1175.7 290.6 L1176.3 297.2 L1181.1 292.6 L1178.9 292.2Z"/>
<path d="M1210.5 295.9 L1213.1 295.8 L1208.0 292.4 L1208.5 298.4 L1209.9 296.3Z"/>
<path d="M1241.1 295.9 L1243.4 297.8 L1240.9 292.6 L1238.3 297.8 L1240.7 295.9Z"/>
<path d="M670.7 329.5 L670.7 328.3 L672.5 328.7 L669.5 322.5 L666.6 328.7 L668.4 328.3 L668.4 329.5Z"/>
<path d="M702.4 328.3 L704.6 328.3 L700.7 323.0 L698.9 329.3 L701.0 328.6Z"/>
<path d="M735.5 326.6 L736.9 325.0 L730.3 324.5 L734.1 330.0 L734.8 327.9Z"/>
<path d="M766.4 326.1 L768.7 324.2 L763.1 325.7 L767.8 329.1 L766.4 326.5Z"/>
<path d="M798.6 325.7 L799.8 323.4 L794.4 326.0 L799.8 328.7 L798.6 326.4Z"/>
<path d="M829.9 326.4 L832.4 324.9 L826.7 325.5 L830.7 329.6 L829.7 326.8Z"/>
<path d="M861.5 328.1 L863.7 327.7 L858.9 323.1 L858.3 329.7 L860.2 328.6Z"/>
<path d="M893.6 327.8 L895.6 327.1 L890.2 323.3 L890.7 329.9 L892.3 328.5Z"/>
<path d="M927.0 324.9 L925.7 324.9 L926.1 323.1 L920.0 326.0 L926.1 329.0 L925.7 327.2 L927.0 327.2Z"/>
<path d="M958.7 324.9 L957.4 324.9 L957.9 323.1 L951.7 326.0 L957.9 329.0 L957.4 327.2 L958.7 327.2Z"/>
<path d="M989.4 326.6 L990.9 325.0 L984.3 324.5 L988.0 330.0 L988.7 327.9Z"/>
<path d="M1019.7 326.0 L1022.5 323.7 L1017.7 326.0 L1022.5 328.4Z"/>
<path d="M1049.6 325.5 L1045.9 326.1 L1051.3 326.5 L1048.3 322.1Z"/>
<path d="M1080.5 326.2 L1078.6 328.5 L1083.8 326.0 L1078.6 323.5 L1080.5 325.8Z"/>
<path d="M1112.2 326.2 L1110.4 328.5 L1115.5 326.0 L1110.4 323.5 L1112.2 325.8Z"/>
<path d="M1144.7 327.4 L1145.3 330.4 L1146.7 324.8 L1141.4 327.1 L1144.4 327.2Z"/>
<path d="M1178.4 327.4 L1181.3 327.8 L1176.6 324.6 L1177.0 330.3 L1178.0 327.6Z"/>
<path d="M1210.1 327.4 L1213.1 327.8 L1208.3 324.6 L1208.7 330.3 L1209.8 327.6Z"/>
<path d="M1241.1 327.7 L1243.4 329.6 L1240.9 324.4 L1238.3 329.6 L1240.7 327.7Z"/>
<path d="M191.3 364.2 L194.2 359.1 L196.1 360.7 L196.7 352.1 L189.6 357.0 L191.9 357.7 L189.0 362.8Z"/>
<path d="M221.9 364.9 L226.2 358.7 L228.1 360.7 L229.6 351.5 L221.5 356.1 L224.0 357.1 L219.6 363.3Z"/>
<path d="M253.6 364.9 L258.0 358.7 L259.8 360.7 L261.3 351.5 L253.2 356.1 L255.7 357.1 L251.4 363.3Z"/>
<path d="M286.0 365.2 L289.8 358.6 L291.8 360.4 L292.5 351.1 L284.8 356.4 L287.4 357.2 L283.6 363.8Z"/>
<path d="M316.8 365.4 L321.6 358.5 L323.5 360.6 L325.1 351.0 L316.7 355.8 L319.3 356.9 L314.5 363.7Z"/>
<path d="M349.5 365.2 L353.3 358.6 L355.3 360.4 L356.0 351.1 L348.3 356.4 L350.9 357.2 L347.1 363.8Z"/>
<path d="M382.1 364.9 L384.9 358.8 L387.0 360.3 L386.9 351.3 L379.9 357.0 L382.5 357.6 L379.6 363.7Z"/>
<path d="M414.6 364.5 L416.6 358.9 L418.7 360.2 L417.9 351.6 L411.7 357.7 L414.1 358.0 L412.1 363.5Z"/>
<path d="M447.5 361.6 L447.9 360.2 L449.6 361.1 L448.3 354.3 L443.8 359.6 L445.7 359.6 L445.3 361.0Z"/>
<path d="M479.3 361.6 L479.7 360.2 L481.3 361.1 L480.0 354.3 L475.5 359.6 L477.4 359.6 L477.0 361.0Z"/>
<path d="M511.2 362.9 L511.8 359.5 L513.8 360.4 L511.7 352.9 L507.2 359.2 L509.4 359.1 L508.8 362.5Z"/>
<path d="M542.9 362.9 L543.5 359.5 L545.5 360.3 L543.4 352.9 L538.9 359.2 L541.1 359.1 L540.5 362.5Z"/>
<path d="M574.7 362.4 L575.2 359.7 L577.1 360.5 L575.1 353.4 L570.8 359.4 L572.8 359.3 L572.3 362.0Z"/>
<path d="M606.5 362.4 L607.0 359.7 L608.9 360.5 L606.8 353.4 L602.5 359.4 L604.6 359.3 L604.1 362.0Z"/>
<path d="M639.0 362.3 L639.0 359.5 L641.0 360.0 L637.8 353.3 L634.6 360.0 L636.6 359.5 L636.6 362.3Z"/>
<path d="M670.7 361.8 L670.7 359.8 L672.6 360.2 L669.5 353.8 L666.4 360.2 L668.4 359.8 L668.4 361.8Z"/>
<path d="M702.4 361.4 L702.4 360.0 L704.3 360.4 L701.3 354.2 L698.3 360.4 L700.1 360.0 L700.1 361.4Z"/>
<path d="M734.7 359.2 L737.2 358.6 L731.6 356.2 L733.1 362.0 L734.1 359.7Z"/>
<path d="M763.0 359.6 L763.7 361.7 L767.4 356.2 L760.8 356.7 L762.3 358.4Z"/>
<path d="M798.0 358.5 L800.8 357.4 L795.1 357.0 L798.3 361.7 L797.8 358.8Z"/>
<path d="M830.1 358.9 L832.5 357.9 L826.6 356.4 L829.1 361.9 L829.7 359.5Z"/>
<path d="M862.5 357.5 L863.3 355.5 L856.9 357.3 L862.3 361.1 L862.3 358.9Z"/>
<path d="M895.5 357.3 L894.1 357.0 L894.8 355.3 L888.2 357.2 L893.8 361.2 L893.7 359.3 L895.1 359.6Z"/>
<path d="M921.5 362.0 L923.3 359.9 L924.5 361.6 L926.4 354.4 L919.6 357.4 L921.4 358.4 L919.6 360.5Z"/>
<path d="M954.5 363.4 L956.0 359.4 L957.9 360.6 L957.1 352.6 L951.3 358.3 L953.6 358.5 L952.1 362.5Z"/>
<path d="M990.7 357.9 L989.4 357.5 L990.4 355.9 L983.6 356.6 L988.4 361.5 L988.6 359.6 L989.9 360.1Z"/>
<path d="M1019.4 360.2 L1021.6 360.7 L1018.7 354.7 L1015.8 360.7 L1018.0 360.2Z"/>
<path d="M1049.1 358.8 L1048.6 361.7 L1051.8 357.0 L1046.1 357.4 L1048.9 358.5Z"/>
<path d="M1079.7 358.5 L1079.3 360.7 L1085.3 357.8 L1079.3 354.9 L1079.7 357.1Z"/>
<path d="M1110.3 359.0 L1111.7 359.0 L1111.3 360.8 L1117.5 357.8 L1111.3 354.8 L1111.7 356.6 L1110.3 356.6Z"/>
<path d="M1144.0 358.0 L1142.1 360.3 L1147.3 357.8 L1142.1 355.3 L1144.0 357.6Z"/>
<path d="M1177.4 358.8 L1179.7 361.6 L1177.4 356.8 L1175.0 361.6Z"/>
<path d="M1210.3 358.9 L1213.3 358.9 L1208.1 356.5 L1209.5 362.1 L1210.0 359.2Z"/>
<path d="M1241.6 359.3 L1244.4 360.3 L1240.3 356.2 L1239.7 362.0 L1241.2 359.4Z"/>
<path d="M190.8 396.9 L194.6 390.4 L196.6 392.2 L197.3 382.9 L189.6 388.2 L192.2 389.0 L188.4 395.5Z"/>
<path d="M222.5 396.9 L226.3 390.4 L228.3 392.2 L229.0 382.9 L221.3 388.2 L223.9 389.0 L220.1 395.5Z"/>
<path d="M255.1 396.6 L258.0 390.5 L260.0 392.1 L259.9 383.1 L253.0 388.8 L255.5 389.4 L252.7 395.5Z"/>
<path d="M286.0 396.9 L289.8 390.4 L291.8 392.2 L292.5 382.9 L284.8 388.2 L287.4 389.0 L283.6 395.5Z"/>
<path d="M315.9 397.2 L321.8 390.2 L323.6 392.5 L326.1 382.8 L317.0 387.0 L319.5 388.3 L313.6 395.4Z"/>
<path d="M348.3 397.6 L353.6 390.1 L355.5 392.2 L357.2 382.4 L348.5 387.3 L351.2 388.4 L345.9 395.9Z"/>
<path d="M382.1 396.6 L384.9 390.5 L387.0 392.1 L386.9 383.1 L379.9 388.8 L382.5 389.4 L379.6 395.5Z"/>
<path d="M415.2 396.3 L416.7 390.6 L418.9 391.7 L417.3 383.2 L411.7 389.8 L414.2 389.9 L412.6 395.6Z"/>
<path d="M447.5 396.3 L448.6 390.5 L450.8 391.4 L448.5 383.1 L443.5 390.1 L445.9 390.0 L444.9 395.8Z"/>
<path d="M478.7 396.3 L480.2 390.6 L482.4 391.7 L480.8 383.2 L475.2 389.8 L477.6 389.9 L476.1 395.6Z"/>
<path d="M510.5 395.8 L511.8 390.8 L513.9 391.9 L512.4 383.7 L507.0 390.1 L509.3 390.2 L508.0 395.1Z"/>
<path d="M542.4 395.2 L543.5 391.1 L545.5 392.2 L544.0 384.3 L538.8 390.4 L541.0 390.4 L539.9 394.6Z"/>
<path d="M575.1 395.2 L575.5 390.9 L577.6 391.6 L574.8 384.1 L570.7 391.0 L572.9 390.7 L572.6 394.9Z"/>
<path d="M606.8 395.2 L607.2 390.9 L609.4 391.6 L606.5 384.1 L602.4 391.0 L604.7 390.7 L604.3 394.9Z"/>
<path d="M639.1 395.1 L639.1 390.8 L641.3 391.3 L637.8 384.1 L634.3 391.3 L636.5 390.8 L636.5 395.1Z"/>
<path d="M670.8 394.6 L670.8 391.1 L672.9 391.6 L669.5 384.6 L666.2 391.6 L668.3 391.1 L668.3 394.6Z"/>
<path d="M702.5 394.6 L702.5 391.1 L704.6 391.6 L701.3 384.6 L697.9 391.6 L700.0 391.1 L700.0 394.6Z"/>
<path d="M734.3 395.6 L734.3 390.6 L736.6 391.1 L733.0 383.6 L729.4 391.1 L731.7 390.6 L731.7 395.6Z"/>
<path d="M768.0 394.8 L766.3 390.1 L768.7 389.8 L762.7 383.9 L761.9 392.2 L763.9 390.9 L765.6 395.7Z"/>
<path d="M797.7 393.2 L797.7 391.8 L799.5 392.2 L796.5 386.0 L793.5 392.2 L795.3 391.8 L795.3 393.2Z"/>
<path d="M830.8 389.3 L831.6 387.2 L825.2 389.0 L830.6 392.9 L830.5 390.7Z"/>
<path d="M863.0 387.2 L861.6 387.7 L861.4 385.9 L856.6 390.8 L863.5 391.5 L862.4 389.9 L863.8 389.4Z"/>
<path d="M895.1 387.8 L893.7 388.0 L893.8 386.2 L888.2 390.2 L894.8 392.1 L894.1 390.3 L895.5 390.1Z"/>
<path d="M919.7 389.4 L921.0 389.9 L920.0 391.5 L926.8 390.8 L922.0 385.9 L921.8 387.7 L920.5 387.2Z"/>
<path d="M954.0 386.0 L954.0 387.4 L952.2 386.9 L955.2 393.2 L958.2 386.9 L956.4 387.4 L956.4 386.0Z"/>
<path d="M990.6 389.0 L989.3 388.8 L990.1 387.1 L983.5 389.0 L989.1 393.0 L988.9 391.1 L990.2 391.3Z"/>
<path d="M1020.4 392.9 L1020.2 391.5 L1022.1 391.6 L1018.1 386.0 L1016.2 392.7 L1017.9 391.9 L1018.2 393.3Z"/>
<path d="M1050.6 391.2 L1052.9 393.1 L1050.4 387.9 L1047.9 393.1 L1050.2 391.2Z"/>
<path d="M1080.5 389.8 L1078.6 392.1 L1083.8 389.6 L1078.6 387.1 L1080.5 389.4Z"/>
<path d="M1111.6 390.7 L1111.6 392.9 L1117.0 389.0 L1110.6 387.2 L1111.4 389.3Z"/>
<path d="M1144.3 388.7 L1141.3 389.2 L1146.9 390.6 L1144.5 385.4 L1144.5 388.4Z"/>
<path d="M1179.3 390.7 L1181.6 389.7 L1175.7 388.2 L1178.2 393.7 L1178.8 391.2Z"/>
<path d="M1211.2 390.3 L1213.3 388.9 L1207.3 388.5 L1210.7 393.5 L1210.8 391.0Z"/>
<path d="M1242.1 390.7 L1245.1 390.7 L1239.8 388.3 L1241.2 393.9 L1241.8 391.0Z"/>
<path d="M223.4 428.4 L226.2 422.3 L228.3 423.9 L228.2 414.9 L221.2 420.6 L223.8 421.1 L220.9 427.2Z"/>
<path d="M255.1 428.4 L258.0 422.3 L260.0 423.9 L259.9 414.9 L253.0 420.6 L255.5 421.1 L252.7 427.2Z"/>
<path d="M286.0 428.7 L289.8 422.2 L291.8 424.0 L292.5 414.7 L284.8 420.0 L287.4 420.8 L283.6 427.3Z"/>
<path d="M314.8 429.0 L321.9 421.9 L323.6 424.5 L327.0 414.7 L317.3 418.2 L319.8 419.8 L312.7 426.9Z"/>
<path d="M347.3 429.5 L353.7 421.8 L355.6 424.2 L358.2 414.2 L348.8 418.5 L351.4 419.9 L345.0 427.5Z"/>
<path d="M382.9 428.0 L384.9 422.4 L387.0 423.8 L386.1 415.1 L379.9 421.2 L382.4 421.5 L380.4 427.1Z"/>
<path d="M415.3 427.5 L416.6 422.6 L418.7 423.7 L417.2 415.5 L411.7 421.8 L414.1 421.9 L412.8 426.8Z"/>
<path d="M447.6 427.5 L448.5 422.5 L450.7 423.4 L448.4 415.4 L443.5 422.2 L445.9 422.1 L445.0 427.1Z"/>
<path d="M478.8 427.5 L480.1 422.6 L482.2 423.7 L480.7 415.5 L475.2 421.8 L477.6 421.9 L476.3 426.8Z"/>
<path d="M510.5 427.5 L511.8 422.6 L513.9 423.7 L512.4 415.5 L507.0 421.8 L509.3 421.9 L508.0 426.8Z"/>
<path d="M542.9 427.0 L543.6 422.8 L545.7 423.7 L543.5 415.9 L538.9 422.5 L541.1 422.3 L540.4 426.5Z"/>
<path d="M575.1 427.4 L575.5 422.4 L577.8 423.2 L574.8 415.4 L570.6 422.5 L572.9 422.2 L572.5 427.2Z"/>
<path d="M607.4 427.8 L607.4 422.1 L609.8 422.6 L606.1 414.8 L602.3 422.6 L604.7 422.1 L604.7 427.8Z"/>
<path d="M639.1 427.8 L639.1 422.1 L641.5 422.6 L637.8 414.8 L634.1 422.6 L636.5 422.1 L636.5 427.8Z"/>
<path d="M670.8 426.8 L670.8 422.6 L673.0 423.1 L669.5 415.8 L666.1 423.1 L668.3 422.6 L668.3 426.8Z"/>
<path d="M702.5 426.3 L702.5 422.8 L704.6 423.3 L701.3 416.3 L697.9 423.3 L700.0 422.8 L700.0 426.3Z"/>
<path d="M734.3 426.8 L734.3 422.6 L736.5 423.1 L733.0 415.8 L729.5 423.1 L731.8 422.6 L731.8 426.8Z"/>
<path d="M766.0 426.3 L766.0 422.8 L768.1 423.3 L764.8 416.3 L761.4 423.3 L763.5 422.8 L763.5 426.3Z"/>
<path d="M797.7 424.8 L797.7 423.6 L799.5 424.0 L796.5 417.8 L793.5 424.0 L795.3 423.6 L795.3 424.8Z"/>
<path d="M830.0 424.7 L829.8 423.3 L831.7 423.4 L827.6 417.8 L825.7 424.5 L827.5 423.7 L827.7 425.1Z"/>
<path d="M863.8 421.5 L862.4 421.0 L863.5 419.4 L856.6 420.1 L861.4 425.1 L861.6 423.2 L863.0 423.7Z"/>
<path d="M895.5 421.5 L894.2 421.0 L895.2 419.4 L888.3 420.1 L893.2 425.1 L893.4 423.2 L894.7 423.7Z"/>
<path d="M922.3 417.7 L922.3 419.1 L920.5 418.7 L923.5 424.9 L926.5 418.7 L924.6 419.1 L924.6 417.7Z"/>
<path d="M958.7 420.2 L957.4 420.2 L957.9 418.4 L951.7 421.3 L957.9 424.3 L957.4 422.5 L958.7 422.5Z"/>
<path d="M990.1 423.3 L989.3 422.3 L990.9 421.5 L984.7 418.7 L986.4 425.3 L987.5 423.8 L988.3 424.8Z"/>
<path d="M1022.3 422.1 L1021.2 421.5 L1022.5 420.1 L1015.6 419.6 L1019.5 425.3 L1020.0 423.5 L1021.1 424.1Z"/>
<path d="M1052.7 421.7 L1054.4 420.0 L1048.3 420.6 L1052.6 425.0 L1052.4 422.5Z"/>
<path d="M1082.5 423.6 L1084.8 424.6 L1082.2 419.1 L1079.5 424.6 L1081.8 423.6Z"/>
<path d="M1114.7 423.5 L1117.1 424.1 L1113.5 419.1 L1111.8 425.0 L1113.9 423.6Z"/>
<path d="M1144.3 422.1 L1143.8 425.3 L1146.9 420.6 L1141.3 421.0Z"/>
<path d="M1178.5 424.8 L1178.5 423.6 L1180.4 424.0 L1177.4 417.8 L1174.4 424.0 L1176.2 423.6 L1176.2 424.8Z"/>
<path d="M1210.3 424.8 L1210.3 423.6 L1212.1 424.0 L1209.1 417.8 L1206.1 424.0 L1208.0 423.6 L1208.0 424.8Z"/>
<path d="M1240.9 422.3 L1243.2 425.2 L1240.9 420.3 L1238.5 425.2Z"/>
<path d="M223.9 460.8 L226.4 453.7 L228.7 455.2 L227.8 445.9 L221.1 452.4 L223.8 452.8 L221.2 459.9Z"/>
<path d="M255.3 461.9 L258.4 453.2 L260.9 454.8 L259.9 444.8 L252.8 451.8 L255.7 452.2 L252.5 460.9Z"/>
<path d="M285.3 462.0 L290.3 453.3 L292.5 455.3 L293.3 445.0 L284.8 450.9 L287.7 451.8 L282.7 460.5Z"/>
<path d="M313.4 461.0 L322.4 453.5 L323.8 456.4 L328.4 446.4 L317.8 449.1 L320.4 451.1 L311.4 458.6Z"/>
<path d="M345.5 460.6 L353.9 453.7 L355.3 456.4 L359.7 446.7 L349.4 449.4 L351.9 451.3 L343.6 458.3Z"/>
<path d="M382.3 459.7 L384.8 454.3 L386.8 455.8 L386.7 447.1 L380.0 452.6 L382.4 453.2 L379.9 458.5Z"/>
<path d="M415.3 459.3 L416.6 454.4 L418.7 455.5 L417.2 447.3 L411.7 453.6 L414.1 453.7 L412.8 458.6Z"/>
<path d="M448.1 459.3 L448.6 454.2 L450.8 454.9 L447.9 447.1 L443.6 454.3 L446.0 454.0 L445.5 459.0Z"/>
<path d="M479.9 459.3 L480.3 454.2 L482.6 454.9 L479.6 447.1 L475.4 454.3 L477.7 454.0 L477.3 459.0Z"/>
<path d="M511.6 458.7 L512.0 454.5 L514.1 455.2 L511.3 447.6 L507.2 454.5 L509.5 454.2 L509.1 458.5Z"/>
<path d="M543.3 459.7 L543.8 454.0 L546.2 454.7 L543.1 446.6 L538.8 454.1 L541.2 453.7 L540.7 459.5Z"/>
<path d="M575.7 460.1 L575.7 453.6 L578.2 454.2 L574.3 446.1 L570.5 454.2 L573.0 453.6 L573.0 460.1Z"/>
<path d="M606.2 459.7 L607.2 454.1 L609.5 455.0 L607.2 446.7 L602.2 453.7 L604.6 453.6 L603.6 459.3Z"/>
<path d="M639.2 460.6 L639.2 453.3 L641.8 453.9 L637.8 445.6 L633.8 453.9 L636.4 453.3 L636.4 460.6Z"/>
<path d="M670.9 459.6 L670.9 453.8 L673.3 454.4 L669.5 446.6 L665.8 454.4 L668.2 453.8 L668.2 459.6Z"/>
<path d="M703.0 456.5 L702.8 455.1 L704.7 455.2 L700.7 449.6 L698.8 456.2 L700.5 455.5 L700.8 456.9Z"/>
<path d="M735.5 453.7 L736.9 452.1 L730.3 451.6 L734.1 457.0 L734.8 454.9Z"/>
<path d="M765.5 455.6 L767.6 456.0 L764.8 450.0 L761.9 456.0 L764.1 455.6Z"/>
<path d="M794.1 453.8 L793.6 456.0 L799.6 453.1 L793.6 450.2 L794.1 452.4Z"/>
<path d="M827.1 449.5 L827.1 450.9 L825.2 450.5 L828.2 456.7 L831.2 450.5 L829.4 450.9 L829.4 449.5Z"/>
<path d="M859.7 450.6 L857.6 449.8 L859.4 456.2 L863.3 450.8 L861.1 450.8Z"/>
<path d="M895.3 452.0 L893.9 452.0 L894.3 450.1 L888.1 453.1 L894.3 456.1 L893.9 454.3 L895.3 454.3Z"/>
<path d="M927.0 452.0 L925.7 452.0 L926.1 450.1 L920.0 453.1 L926.1 456.1 L925.7 454.3 L927.0 454.3Z"/>
<path d="M958.8 452.3 L957.5 452.2 L958.1 450.4 L951.7 452.8 L957.6 456.3 L957.3 454.5 L958.6 454.6Z"/>
<path d="M990.5 452.0 L989.1 452.0 L989.6 450.1 L983.3 453.1 L989.6 456.1 L989.1 454.3 L990.5 454.3Z"/>
<path d="M1016.5 456.1 L1017.5 455.3 L1018.2 457.1 L1021.5 451.1 L1014.8 452.2 L1016.2 453.5 L1015.2 454.2Z"/>
<path d="M1048.9 455.1 L1049.8 457.1 L1053.1 451.2 L1046.5 452.3 L1048.0 453.8Z"/>
<path d="M1083.4 458.1 L1083.4 454.6 L1085.5 455.1 L1082.2 448.1 L1078.8 455.1 L1080.9 454.6 L1080.9 458.1Z"/>
<path d="M1113.1 454.4 L1114.2 457.5 L1114.6 451.8 L1110.0 455.0Z"/>
<path d="M1144.3 453.9 L1143.8 457.1 L1146.9 452.4 L1141.3 452.8Z"/>
<path d="M1178.0 455.6 L1180.2 456.0 L1177.4 450.1 L1174.5 456.0 L1176.7 455.6Z"/>
<path d="M1209.8 455.6 L1212.0 456.0 L1209.1 450.1 L1206.3 456.0 L1208.5 455.6Z"/>
<path d="M1240.7 451.5 L1238.3 449.6 L1240.9 454.8 L1243.4 449.6 L1241.1 451.5Z"/>
<path d="M195.3 488.6 L195.0 486.6 L196.9 486.7 L192.7 480.9 L190.8 487.8 L192.6 487.0 L193.0 489.0Z"/>
<path d="M225.3 492.2 L226.5 485.5 L228.8 486.5 L226.4 477.8 L221.2 485.2 L223.8 485.0 L222.6 491.7Z"/>
<path d="M255.3 493.6 L258.4 485.0 L260.9 486.6 L259.9 476.6 L252.8 483.6 L255.7 484.0 L252.5 492.6Z"/>
<path d="M284.5 493.4 L290.3 485.2 L292.3 487.4 L294.0 477.2 L285.0 482.3 L287.8 483.5 L282.1 491.7Z"/>
<path d="M314.5 493.0 L322.2 485.3 L323.8 487.9 L327.4 477.9 L317.4 481.4 L320.0 483.1 L312.3 490.8Z"/>
<path d="M347.0 492.1 L353.5 485.6 L355.0 488.1 L358.4 478.7 L348.9 482.0 L351.4 483.6 L344.9 490.1Z"/>
<path d="M380.2 490.5 L384.3 486.3 L385.7 488.4 L388.5 480.2 L380.4 483.1 L382.5 484.4 L378.3 488.6Z"/>
<path d="M413.5 491.3 L416.4 486.1 L418.2 487.8 L418.9 479.2 L411.8 484.1 L414.1 484.8 L411.2 489.9Z"/>
<path d="M446.5 491.0 L448.3 486.2 L450.2 487.5 L449.4 479.2 L443.5 485.0 L445.8 485.3 L444.1 490.1Z"/>
<path d="M478.8 491.1 L480.1 486.1 L482.2 487.3 L480.7 479.0 L475.2 485.4 L477.6 485.5 L476.3 490.4Z"/>
<path d="M511.1 491.1 L512.0 486.1 L514.1 487.0 L511.9 478.9 L507.0 485.7 L509.4 485.6 L508.5 490.6Z"/>
<path d="M543.4 490.5 L543.7 486.2 L545.9 486.9 L543.1 479.4 L539.0 486.3 L541.2 486.0 L540.8 490.2Z"/>
<path d="M575.6 491.4 L575.6 485.6 L578.0 486.2 L574.3 478.4 L570.6 486.2 L573.0 485.6 L573.0 491.4Z"/>
<path d="M604.4 490.3 L606.5 486.6 L608.2 488.1 L608.8 480.1 L602.2 484.7 L604.3 485.3 L602.2 489.0Z"/>
<path d="M638.3 489.0 L638.6 487.0 L640.4 487.8 L638.5 480.9 L634.3 486.7 L636.3 486.6 L635.9 488.6Z"/>
<path d="M671.3 486.2 L673.7 485.4 L668.0 483.4 L670.0 489.1 L670.8 486.7Z"/>
<path d="M702.8 486.9 L705.0 486.6 L700.2 482.0 L699.6 488.6 L701.5 487.4Z"/>
<path d="M734.7 483.5 L734.6 480.9 L731.2 486.0 L737.2 485.5 L735.1 484.1Z"/>
<path d="M762.7 488.1 L763.8 487.2 L764.7 488.9 L767.5 482.6 L760.8 484.3 L762.3 485.4 L761.3 486.3Z"/>
<path d="M798.6 484.5 L799.8 482.2 L794.4 484.9 L799.8 487.5 L798.6 485.2Z"/>
<path d="M831.8 484.0 L830.6 483.9 L831.2 482.1 L824.8 484.6 L830.6 488.1 L830.4 486.2 L831.6 486.3Z"/>
<path d="M864.1 484.8 L862.2 484.3 L863.1 482.5 L856.1 483.8 L861.5 488.5 L861.6 486.5 L863.5 487.1Z"/>
<path d="M892.9 488.9 L892.9 486.9 L894.8 487.3 L891.7 480.9 L888.6 487.3 L890.5 486.9 L890.5 488.9Z"/>
<path d="M924.7 489.4 L924.7 486.6 L926.7 487.1 L923.5 480.4 L920.2 487.1 L922.2 486.6 L922.2 489.4Z"/>
<path d="M958.7 483.7 L957.4 483.7 L957.9 481.9 L951.7 484.9 L957.9 487.9 L957.4 486.0 L958.7 486.0Z"/>
<path d="M990.6 485.0 L989.4 484.6 L990.5 483.0 L983.7 483.7 L988.4 488.6 L988.7 486.7 L989.8 487.2Z"/>
<path d="M1015.8 487.9 L1017.5 486.9 L1018.1 488.8 L1022.1 482.9 L1015.0 483.4 L1016.4 484.9 L1014.6 485.9Z"/>
<path d="M1048.0 487.6 L1049.1 487.0 L1049.6 488.8 L1053.5 483.1 L1046.6 483.6 L1047.9 485.0 L1046.8 485.6Z"/>
<path d="M1081.2 486.0 L1081.7 489.2 L1083.1 483.7 L1077.9 486.0Z"/>
<path d="M1112.5 484.4 L1109.7 486.0 L1115.3 485.4 L1111.4 481.3Z"/>
<path d="M1146.2 486.3 L1149.2 487.4 L1145.1 483.5 L1144.5 489.1Z"/>
<path d="M1180.5 489.6 L1179.0 485.6 L1181.2 485.3 L1175.5 479.7 L1174.7 487.7 L1176.6 486.5 L1178.1 490.5Z"/>
<path d="M1210.8 486.8 L1213.0 486.2 L1207.9 482.7 L1208.3 489.0 L1210.0 487.3Z"/>
<path d="M1239.7 481.4 L1239.7 482.6 L1237.9 482.2 L1240.9 488.4 L1243.8 482.2 L1242.0 482.6 L1242.0 481.4Z"/>
<path d="M97.6 522.8 L99.2 518.0 L101.2 519.2 L100.1 510.9 L94.3 517.0 L96.7 517.2 L95.1 522.0Z"/>
<path d="M128.4 528.8 L132.1 515.1 L135.3 516.7 L133.1 505.0 L125.3 514.1 L128.9 514.2 L125.2 527.9Z"/>
<path d="M163.1 523.8 L163.1 517.1 L165.6 517.6 L161.7 509.5 L157.8 517.6 L160.3 517.1 L160.3 523.8Z"/>
<path d="M194.6 520.6 L194.6 518.6 L196.5 519.1 L193.4 512.6 L190.3 519.1 L192.3 518.6 L192.3 520.6Z"/>
<path d="M226.0 520.7 L226.2 518.7 L228.1 519.4 L225.5 512.7 L221.9 518.8 L223.8 518.5 L223.7 520.5Z"/>
<path d="M255.3 523.2 L257.8 517.8 L259.8 519.4 L259.7 510.7 L253.0 516.2 L255.4 516.7 L252.9 522.1Z"/>
<path d="M283.8 524.8 L290.2 517.1 L292.1 519.5 L294.7 509.5 L285.3 513.8 L288.0 515.2 L281.5 522.9Z"/>
<path d="M316.3 522.7 L321.1 517.9 L322.5 520.1 L325.5 511.6 L317.0 514.6 L319.1 516.0 L314.4 520.7Z"/>
<path d="M349.7 522.4 L352.7 518.2 L354.2 519.9 L355.6 511.7 L348.3 515.8 L350.5 516.7 L347.6 520.9Z"/>
<path d="M381.3 521.7 L384.1 518.4 L385.4 520.2 L387.4 512.4 L380.1 515.8 L382.1 516.8 L379.4 520.0Z"/>
<path d="M410.6 522.7 L416.4 517.8 L417.7 520.2 L421.5 511.7 L412.5 514.0 L414.6 515.7 L408.8 520.5Z"/>
<path d="M443.3 522.7 L448.0 517.9 L449.4 520.1 L452.4 511.6 L443.9 514.6 L446.1 516.0 L441.3 520.7Z"/>
<path d="M477.2 522.5 L479.7 518.1 L481.5 519.7 L482.1 511.4 L475.2 516.1 L477.5 516.8 L474.9 521.2Z"/>
<path d="M510.6 520.8 L511.3 518.9 L512.9 520.0 L512.2 512.9 L507.1 517.9 L509.0 518.1 L508.4 520.0Z"/>
<path d="M544.1 518.7 L546.3 518.4 L541.5 513.7 L540.9 520.3 L542.8 519.2Z"/>
<path d="M578.0 517.4 L576.8 516.7 L578.1 515.4 L571.2 514.9 L575.1 520.6 L575.6 518.8 L576.9 519.5Z"/>
<path d="M600.7 522.1 L606.7 517.9 L607.7 520.4 L612.2 512.3 L603.1 513.9 L605.1 515.7 L599.1 519.8Z"/>
<path d="M634.5 519.9 L636.9 518.6 L637.5 520.5 L641.7 514.4 L634.3 515.0 L635.7 516.5 L633.3 517.9Z"/>
<path d="M671.6 515.2 L671.2 513.0 L666.6 517.7 L673.2 518.4 L672.1 516.5Z"/>
<path d="M702.6 515.7 L703.1 512.7 L699.9 517.5 L705.6 517.1 L702.8 516.0Z"/>
<path d="M733.4 515.0 L731.9 512.5 L732.5 518.2 L736.6 514.2 L733.8 515.2Z"/>
<path d="M762.7 519.9 L763.8 518.9 L764.7 520.6 L767.5 514.3 L760.8 516.0 L762.3 517.2 L761.3 518.1Z"/>
<path d="M798.7 516.7 L800.2 514.6 L794.4 516.3 L799.3 519.8 L798.6 517.4Z"/>
<path d="M831.9 517.4 L830.7 516.7 L832.0 515.4 L825.1 514.9 L829.0 520.6 L829.6 518.8 L830.8 519.5Z"/>
<path d="M863.7 517.1 L862.5 516.5 L863.6 515.0 L856.7 515.1 L861.1 520.5 L861.5 518.6 L862.8 519.2Z"/>
<path d="M892.9 520.1 L892.9 518.9 L894.7 519.3 L891.7 513.1 L888.7 519.3 L890.6 518.9 L890.6 520.1Z"/>
<path d="M924.6 520.6 L924.6 518.6 L926.6 519.1 L923.5 512.6 L920.4 519.1 L922.3 518.6 L922.3 520.6Z"/>
<path d="M958.9 515.8 L957.5 515.7 L958.1 513.9 L951.6 516.3 L957.6 519.9 L957.3 518.0 L958.7 518.1Z"/>
<path d="M990.6 517.4 L989.4 516.7 L990.7 515.4 L983.8 514.9 L987.7 520.6 L988.3 518.8 L989.5 519.5Z"/>
<path d="M1016.2 519.4 L1017.3 518.8 L1017.9 520.6 L1021.7 514.9 L1014.9 515.4 L1016.2 516.8 L1015.1 517.4Z"/>
<path d="M1048.0 519.4 L1049.1 518.8 L1049.6 520.6 L1053.5 514.9 L1046.6 515.4 L1047.9 516.8 L1046.8 517.4Z"/>
<path d="M1080.9 517.4 L1080.3 520.6 L1083.5 515.9 L1077.8 516.3Z"/>
<path d="M1112.9 517.8 L1113.5 521.0 L1114.9 515.5 L1109.7 517.8Z"/>
<path d="M1146.8 520.1 L1146.8 518.9 L1148.6 519.3 L1145.6 513.1 L1142.7 519.3 L1144.5 518.9 L1144.5 520.1Z"/>
<path d="M1179.6 521.8 L1178.8 517.7 L1181.1 517.8 L1176.4 511.2 L1174.3 519.0 L1176.3 518.1 L1177.1 522.3Z"/>
<path d="M1210.6 518.8 L1212.8 518.4 L1208.1 513.8 L1207.4 520.4 L1209.3 519.2Z"/>
<path d="M34.8 552.6 L35.4 550.7 L37.1 551.6 L35.8 544.6 L31.1 550.0 L33.1 550.0 L32.6 552.0Z"/>
<path d="M66.6 555.2 L67.7 549.3 L70.0 550.3 L67.6 541.9 L62.6 549.0 L65.0 548.9 L64.0 554.7Z"/>
<path d="M98.0 558.4 L99.9 547.7 L102.8 548.9 L99.9 538.7 L93.8 547.3 L96.9 547.2 L95.0 557.9Z"/>
<path d="M129.7 558.4 L131.6 547.7 L134.5 548.9 L131.7 538.7 L125.5 547.3 L128.6 547.2 L126.7 557.9Z"/>
<path d="M163.0 553.9 L163.0 549.7 L165.2 550.2 L161.7 542.9 L158.2 550.2 L160.4 549.7 L160.4 553.9Z"/>
<path d="M195.7 549.9 L197.5 548.6 L191.5 546.5 L193.6 552.5 L194.9 550.7Z"/>
<path d="M226.8 550.6 L229.0 550.0 L224.0 545.9 L223.9 552.3 L225.8 551.0Z"/>
<path d="M259.4 547.8 L259.8 545.6 L253.9 548.4 L259.8 551.3 L259.4 549.1Z"/>
<path d="M291.0 547.3 L291.0 545.1 L285.7 548.9 L292.0 550.7 L291.2 548.6Z"/>
<path d="M322.9 547.8 L323.3 545.6 L317.4 548.4 L323.3 551.3 L322.9 549.1Z"/>
<path d="M353.6 550.5 L355.8 550.2 L351.1 545.6 L350.5 552.1 L352.4 551.0Z"/>
<path d="M384.5 550.9 L386.7 551.3 L383.9 545.4 L381.0 551.3 L383.2 550.9Z"/>
<path d="M408.6 556.3 L417.6 548.8 L419.1 551.7 L423.6 541.7 L413.0 544.5 L415.6 546.4 L406.6 553.9Z"/>
<path d="M440.4 556.3 L449.3 548.8 L450.8 551.7 L455.4 541.7 L444.8 544.5 L447.3 546.4 L438.4 553.9Z"/>
<path d="M476.1 555.1 L480.0 549.5 L481.7 551.5 L483.2 542.6 L475.4 547.0 L477.7 548.0 L473.9 553.5Z"/>
<path d="M510.3 553.5 L511.5 550.3 L513.3 551.4 L512.5 543.8 L507.0 549.2 L509.2 549.4 L508.0 552.6Z"/>
<path d="M545.0 549.0 L546.5 547.4 L539.9 546.9 L543.6 552.3 L544.3 550.3Z"/>
<path d="M578.1 548.6 L576.8 548.1 L577.8 546.5 L570.9 547.2 L575.8 552.1 L576.0 550.3 L577.3 550.7Z"/>
<path d="M602.8 551.7 L605.2 550.3 L605.8 552.3 L610.0 546.2 L602.5 546.7 L603.9 548.2 L601.6 549.6Z"/>
<path d="M635.5 551.9 L637.0 550.6 L637.9 552.4 L640.9 545.8 L633.9 547.6 L635.5 548.8 L634.0 550.1Z"/>
<path d="M672.1 548.2 L672.9 546.1 L666.5 547.9 L671.9 551.7 L671.8 549.5Z"/>
<path d="M699.1 548.8 L698.0 551.1 L703.4 548.4 L698.0 545.8 L699.1 548.1Z"/>
<path d="M732.6 550.6 L734.4 552.4 L733.8 546.4 L729.4 550.6 L732.0 550.3Z"/>
<path d="M765.9 552.4 L765.9 550.4 L767.9 550.9 L764.8 544.4 L761.7 550.9 L763.6 550.4 L763.6 552.4Z"/>
<path d="M797.7 552.0 L797.7 550.6 L799.5 551.0 L796.5 544.8 L793.5 551.0 L795.3 550.6 L795.3 552.0Z"/>
<path d="M829.9 549.8 L832.4 549.3 L826.9 546.8 L828.3 552.6 L829.4 550.3Z"/>
<path d="M860.2 550.1 L862.5 552.0 L860.0 546.8 L857.5 552.0 L859.8 550.1Z"/>
<path d="M895.4 549.2 L894.2 548.5 L895.5 547.1 L888.6 546.6 L892.5 552.3 L893.0 550.5 L894.3 551.2Z"/>
<path d="M921.7 550.3 L922.4 552.3 L926.1 546.9 L919.5 547.4 L921.0 549.0Z"/>
<path d="M956.2 548.4 L959.0 546.1 L954.2 548.4 L959.0 550.8Z"/>
<path d="M987.9 548.2 L990.3 545.4 L986.0 548.6 L991.1 550.1Z"/>
<path d="M1021.2 547.8 L1021.6 545.6 L1015.7 548.4 L1021.6 551.3 L1021.2 549.1Z"/>
<path d="M1052.9 548.1 L1053.7 546.0 L1047.2 547.9 L1052.7 551.8 L1052.6 549.6Z"/>
<path d="M1084.5 547.7 L1085.0 545.5 L1078.9 548.4 L1085.0 551.3 L1084.5 549.2Z"/>
<path d="M1116.3 547.7 L1116.7 545.5 L1110.6 548.4 L1116.7 551.3 L1116.3 549.2Z"/>
<path d="M1146.8 551.9 L1146.8 550.7 L1148.6 551.1 L1145.6 544.9 L1142.7 551.1 L1144.5 550.7 L1144.5 551.9Z"/>
<path d="M1178.6 552.4 L1178.6 550.4 L1180.5 550.9 L1177.4 544.4 L1174.3 550.9 L1176.2 550.4 L1176.2 552.4Z"/>
<path d="M1210.3 551.9 L1210.3 550.7 L1212.1 551.1 L1209.1 544.9 L1206.1 551.1 L1208.0 550.7 L1208.0 551.9Z"/>
<path d="M36.0 586.2 L36.0 581.2 L38.4 581.7 L34.7 574.1 L31.1 581.7 L33.4 581.2 L33.4 586.2Z"/>
<path d="M67.7 585.7 L67.7 581.4 L70.0 581.9 L66.5 574.7 L63.0 581.9 L65.2 581.4 L65.2 585.7Z"/>
<path d="M99.5 585.1 L99.5 581.7 L101.6 582.2 L98.2 575.2 L94.9 582.2 L97.0 581.7 L97.0 585.1Z"/>
<path d="M131.2 585.1 L131.2 581.7 L133.3 582.2 L130.0 575.2 L126.6 582.2 L128.7 581.7 L128.7 585.1Z"/>
<path d="M162.7 582.7 L165.0 582.7 L161.2 577.5 L159.5 583.7 L161.6 582.9Z"/>
<path d="M195.0 581.0 L197.8 580.1 L192.0 579.2 L194.8 584.3 L194.7 581.4Z"/>
<path d="M226.8 580.9 L229.5 579.7 L223.7 579.3 L226.9 584.1 L226.6 581.3Z"/>
<path d="M257.3 581.4 L260.5 582.9 L256.5 579.0 L255.9 584.5Z"/>
<path d="M289.3 579.8 L290.9 576.2 L288.0 580.6 L293.2 580.2Z"/>
<path d="M321.1 580.2 L324.4 577.9 L319.6 580.2 L324.4 582.5Z"/>
<path d="M352.6 582.7 L354.9 583.3 L352.1 577.7 L349.4 583.3 L351.7 582.7Z"/>
<path d="M384.4 582.7 L386.6 583.3 L383.9 577.7 L381.2 583.3 L383.4 582.7Z"/>
<path d="M411.4 585.5 L415.9 581.7 L417.1 583.9 L420.7 575.9 L412.3 578.1 L414.2 579.6 L409.7 583.4Z"/>
<path d="M443.3 586.2 L448.0 581.4 L449.4 583.6 L452.4 575.1 L443.9 578.1 L446.1 579.5 L441.3 584.3Z"/>
<path d="M477.2 586.1 L479.7 581.7 L481.5 583.3 L482.1 575.0 L475.2 579.7 L477.5 580.4 L474.9 584.8Z"/>
<path d="M510.8 585.3 L511.6 582.0 L513.5 583.0 L512.1 575.4 L507.1 581.3 L509.3 581.3 L508.4 584.7Z"/>
<path d="M544.9 583.1 L544.4 581.9 L546.3 581.7 L541.4 576.9 L540.7 583.7 L542.3 582.7 L542.7 583.9Z"/>
<path d="M578.0 581.0 L576.8 580.3 L578.1 578.9 L571.2 578.4 L575.1 584.1 L575.6 582.3 L576.9 583.0Z"/>
<path d="M609.8 580.3 L608.5 579.9 L609.6 578.3 L602.7 579.0 L607.5 583.9 L607.7 582.0 L609.0 582.5Z"/>
<path d="M640.5 582.6 L639.9 581.6 L641.7 581.0 L636.0 577.2 L636.6 584.0 L637.9 582.7 L638.6 583.8Z"/>
<path d="M669.7 587.3 L670.8 580.9 L673.1 581.9 L670.8 573.3 L665.6 580.6 L668.1 580.4 L667.0 586.8Z"/>
<path d="M702.7 587.7 L702.7 580.4 L705.3 581.0 L701.3 572.7 L697.3 581.0 L699.9 580.4 L699.9 587.7Z"/>
<path d="M734.4 587.7 L734.4 580.4 L737.0 581.0 L733.0 572.7 L729.0 581.0 L731.6 580.4 L731.6 587.7Z"/>
<path d="M766.1 587.2 L766.1 580.7 L768.6 581.2 L764.8 573.2 L760.9 581.2 L763.4 580.7 L763.4 587.2Z"/>
<path d="M797.7 584.7 L797.7 581.9 L799.7 582.4 L796.5 575.7 L793.3 582.4 L795.3 581.9 L795.3 584.7Z"/>
<path d="M828.9 582.6 L831.1 583.1 L828.2 577.1 L825.4 583.1 L827.5 582.6Z"/>
<path d="M859.8 578.5 L857.5 576.7 L860.0 581.8 L862.5 576.7 L860.2 578.5Z"/>
<path d="M894.2 580.8 L895.6 579.1 L889.0 578.6 L892.8 584.1 L893.5 582.0Z"/>
<path d="M923.7 581.8 L926.0 583.7 L923.5 578.5 L920.9 583.7 L923.3 581.8Z"/>
<path d="M956.2 580.2 L959.0 577.8 L954.2 580.2 L959.0 582.5Z"/>
<path d="M987.3 578.6 L985.8 576.0 L986.4 581.7 L990.5 577.7 L987.7 578.7Z"/>
<path d="M1018.9 578.7 L1016.9 576.2 L1018.4 581.7 L1021.7 577.1Z"/>
<path d="M1049.0 580.7 L1047.9 583.7 L1051.8 579.7 L1046.2 579.1Z"/>
<path d="M1084.6 580.7 L1086.0 579.1 L1079.3 578.6 L1083.1 584.1 L1083.8 582.0Z"/>
<path d="M1117.4 579.0 L1116.1 579.0 L1116.6 577.2 L1110.4 580.2 L1116.6 583.2 L1116.1 581.3 L1117.4 581.3Z"/>
<path d="M1149.4 579.0 L1147.8 579.0 L1148.2 577.2 L1141.9 580.2 L1148.2 583.2 L1147.8 581.4 L1149.4 581.4Z"/>
<path d="M1181.0 579.3 L1179.7 579.2 L1180.3 577.5 L1173.9 579.9 L1179.8 583.4 L1179.5 581.5 L1180.8 581.6Z"/>
<path d="M1212.6 579.0 L1211.4 579.0 L1211.8 577.2 L1205.6 580.2 L1211.8 583.2 L1211.4 581.3 L1212.6 581.3Z"/>
<path d="M893.1 613.6 L895.7 613.5 L890.6 610.1 L891.1 616.1 L892.5 614.0Z"/>
<path d="M922.5 613.3 L923.1 616.3 L924.5 610.7 L919.3 613.1 L922.3 613.1Z"/>
<path d="M956.2 613.3 L959.1 613.8 L954.4 610.5 L954.8 616.3 L955.9 613.5Z"/>
<path d="M986.9 611.0 L984.6 608.1 L986.9 613.0 L989.3 608.1Z"/>
<path d="M1017.4 611.2 L1014.3 612.3 L1020.0 612.7 L1016.8 608.0Z"/>
<path d="M1048.9 612.2 L1047.3 615.0 L1051.9 611.7 L1046.4 610.1Z"/>
<path d="M1085.8 612.7 L1084.7 612.1 L1086.0 610.7 L1079.1 610.2 L1083.0 615.9 L1083.5 614.1 L1084.6 614.7Z"/>
<path d="M1117.7 612.8 L1116.3 612.0 L1117.6 610.6 L1110.7 610.1 L1114.6 615.9 L1115.2 614.0 L1116.6 614.8Z"/>
<path d="M1148.0 611.2 L1148.4 609.0 L1142.4 612.0 L1148.4 614.9 L1148.0 612.7Z"/>
<path d="M1179.6 611.6 L1180.6 609.3 L1175.1 612.0 L1180.6 614.6 L1179.6 612.3Z"/>
<path d="M1210.5 612.5 L1213.4 610.9 L1207.7 611.4 L1211.7 615.5Z"/>
<path d="M956.4 644.9 L959.4 644.8 L954.1 642.5 L955.5 648.1 L956.1 645.1Z"/>
<path d="M985.3 643.3 L982.8 644.9 L988.5 644.3 L984.5 640.2 L985.5 643.0Z"/>
<path d="M1017.4 643.0 L1014.3 644.1 L1020.0 644.5 L1016.8 639.8Z"/>
<path d="M1048.9 644.0 L1047.3 646.8 L1051.9 643.5 L1046.4 641.9Z"/>
<path d="M1085.8 644.5 L1084.7 643.9 L1086.0 642.5 L1079.1 642.0 L1083.0 647.6 L1083.5 645.9 L1084.6 646.5Z"/>
<path d="M1117.7 644.6 L1116.3 643.8 L1117.6 642.4 L1110.7 641.9 L1114.6 647.6 L1115.2 645.8 L1116.6 646.6Z"/>
<path d="M1149.0 641.3 L1147.1 641.9 L1146.9 640.0 L1141.9 645.1 L1149.0 645.8 L1147.9 644.2 L1149.8 643.5Z"/>
<path d="M1179.4 642.6 L1179.5 640.1 L1175.3 644.5 L1181.4 645.1 L1179.6 643.3Z"/>
<path d="M1207.6 643.7 L1205.5 646.2 L1210.6 643.7 L1205.5 641.3Z"/>
<path d="M956.7 676.2 L959.5 675.1 L953.8 674.7 L957.0 679.4 L956.5 676.5Z"/>
<path d="M988.6 675.9 L991.1 674.3 L985.4 674.9 L989.4 679.1 L988.4 676.2Z"/>
<path d="M1017.2 675.8 L1015.6 678.6 L1020.2 675.2 L1014.7 673.7Z"/>
<path d="M1049.1 676.2 L1048.5 679.4 L1051.7 674.8 L1046.1 675.2Z"/>
<path d="M1085.7 674.3 L1084.4 674.3 L1084.8 672.5 L1078.7 675.5 L1084.8 678.5 L1084.4 676.7 L1085.7 676.7Z"/>
<path d="M1113.1 681.6 L1114.8 676.9 L1116.8 678.2 L1116.0 669.9 L1110.0 675.7 L1112.3 676.0 L1110.6 680.7Z"/>
<path d="M1143.0 681.6 L1146.3 676.9 L1148.0 678.7 L1149.4 670.2 L1141.9 674.4 L1144.1 675.3 L1140.8 680.1Z"/>
<path d="M1179.7 674.7 L1180.2 672.6 L1174.1 675.5 L1180.2 678.4 L1179.7 676.3Z"/>
<path d="M1209.1 676.5 L1211.5 679.3 L1209.1 674.5 L1206.8 679.3Z"/>
<path d="M1019.9 708.4 L1022.9 708.4 L1017.6 706.0 L1019.0 711.6 L1019.6 708.7Z"/>
<path d="M1053.2 709.8 L1052.5 708.6 L1054.3 708.0 L1048.6 704.2 L1049.1 711.0 L1050.5 709.7 L1051.2 711.0Z"/>
<path d="M1084.4 710.2 L1084.0 709.0 L1085.9 708.8 L1081.0 704.0 L1080.3 710.8 L1081.8 709.8 L1082.3 711.0Z"/>
<path d="M1115.9 711.5 L1115.4 708.8 L1117.5 708.9 L1113.1 702.8 L1111.1 710.0 L1113.0 709.2 L1113.5 711.9Z"/>
<path d="M1147.7 712.0 L1147.1 708.5 L1149.3 708.6 L1144.8 702.3 L1142.7 709.8 L1144.7 709.0 L1145.3 712.4Z"/>
<path d="M1179.7 710.2 L1179.2 709.0 L1181.1 708.8 L1176.2 704.0 L1175.5 710.8 L1177.1 709.8 L1177.5 711.0Z"/>
<path d="M1051.8 740.7 L1054.4 740.6 L1049.3 737.2 L1049.8 743.2 L1051.2 741.1Z"/>
<path d="M1084.4 741.9 L1084.0 740.8 L1085.9 740.5 L1081.0 735.8 L1080.3 742.6 L1081.8 741.5 L1082.3 742.7Z"/>
<path d="M1115.6 742.3 L1115.4 741.0 L1117.3 741.2 L1113.3 735.6 L1111.4 742.2 L1113.2 741.4 L1113.4 742.7Z"/>
<path d="M1146.8 743.0 L1146.8 741.0 L1148.7 741.5 L1145.6 735.0 L1142.5 741.5 L1144.5 741.0 L1144.5 743.0Z"/>
<path d="M1178.5 742.5 L1178.5 741.3 L1180.4 741.7 L1177.4 735.5 L1174.4 741.7 L1176.2 741.3 L1176.2 742.5Z"/>
<path d="M1211.4 742.0 L1211.0 740.7 L1212.8 740.5 L1207.9 735.7 L1207.2 742.5 L1208.8 741.5 L1209.3 742.8Z"/>
<path d="M1147.5 774.5 L1147.2 772.6 L1149.1 772.7 L1144.9 766.9 L1143.0 773.8 L1144.8 773.0 L1145.2 775.0Z"/>
<path d="M1179.9 774.2 L1179.2 772.3 L1181.1 772.0 L1176.0 767.1 L1175.3 774.2 L1177.0 773.1 L1177.6 775.0Z"/>
<path d="M1400.7 774.4 L1400.7 773.0 L1402.6 773.4 L1399.6 767.2 L1396.6 773.4 L1398.4 773.0 L1398.4 774.4Z"/>
<path d="M1435.0 771.6 L1433.8 770.9 L1435.1 769.5 L1428.2 769.0 L1432.1 774.7 L1432.6 772.9 L1433.8 773.6Z"/>
<path d="M1463.7 773.3 L1465.9 773.7 L1463.0 767.7 L1460.2 773.7 L1462.3 773.3Z"/>
<path d="M1147.8 806.1 L1147.3 804.2 L1149.3 804.1 L1144.6 798.7 L1143.3 805.7 L1145.0 804.8 L1145.5 806.7Z"/>
<path d="M1206.6 805.4 L1207.8 804.7 L1208.3 806.5 L1212.2 800.8 L1205.3 801.3 L1206.6 802.7 L1205.4 803.4Z"/>
<path d="M1241.3 807.2 L1241.8 804.5 L1243.7 805.3 L1241.6 798.1 L1237.3 804.2 L1239.4 804.1 L1238.9 806.8Z"/>
<path d="M1273.8 807.1 L1273.8 804.3 L1275.8 804.8 L1272.6 798.1 L1269.4 804.8 L1271.4 804.3 L1271.4 807.1Z"/>
<path d="M1305.1 808.2 L1305.5 803.9 L1307.6 804.6 L1304.8 797.1 L1300.7 804.0 L1303.0 803.7 L1302.6 807.9Z"/>
<path d="M1336.9 808.7 L1337.3 803.7 L1339.5 804.4 L1336.6 796.6 L1332.4 803.8 L1334.7 803.5 L1334.3 808.4Z"/>
<path d="M1368.5 810.7 L1369.2 802.7 L1371.9 803.5 L1368.5 794.6 L1363.7 802.8 L1366.4 802.4 L1365.7 810.4Z"/>
<path d="M1400.8 807.6 L1400.8 804.1 L1402.9 804.6 L1399.6 797.6 L1396.2 804.6 L1398.3 804.1 L1398.3 807.6Z"/>
<path d="M1432.5 806.2 L1432.5 804.8 L1434.3 805.2 L1431.3 799.0 L1428.3 805.2 L1430.1 804.8 L1430.1 806.2Z"/>
<path d="M1146.9 839.9 L1146.9 835.6 L1149.1 836.1 L1145.6 828.9 L1142.2 836.1 L1144.4 835.6 L1144.4 839.9Z"/>
<path d="M1179.6 839.5 L1178.8 835.4 L1181.1 835.5 L1176.4 828.9 L1174.3 836.7 L1176.3 835.8 L1177.1 840.0Z"/>
<path d="M1207.9 838.9 L1209.3 836.5 L1210.8 837.9 L1211.4 830.5 L1205.2 834.7 L1207.2 835.3 L1205.8 837.6Z"/>
<path d="M1239.7 838.9 L1241.0 836.5 L1242.5 837.9 L1243.1 830.5 L1237.0 834.7 L1238.9 835.3 L1237.6 837.6Z"/>
<path d="M1273.3 836.8 L1275.5 837.2 L1272.6 831.2 L1269.7 837.2 L1271.9 836.8Z"/>
<path d="M1083.3 869.7 L1083.3 868.3 L1085.2 868.7 L1082.2 862.5 L1079.2 868.7 L1081.0 868.3 L1081.0 869.7Z"/>
</g>
<path d="M25.0 127.6 L25.0 118.5 L48.0 101.5 L45.5 84.6 L62.5 81.0 L81.0 86.0 L104.0 81.0 L116.0 73.0 L112.0 56.0 L125.0 48.0 L135.0 35.0 L151.0 26.0 L186.0 25.0 L189.0 73.0 L190.5 82.0 L190.0 105.0 L187.0 156.0 L182.0 160.0 L177.0 163.0 L172.0 159.0 L160.0 150.0 L146.0 146.0 L144.5 131.5 L138.0 127.6 Z" fill="#EEAA00"/>
<path d="M177.0 166.0 L190.0 163.0 L205.0 160.0 L229.0 152.0 L228.0 156.0 L215.0 163.0 L195.0 172.0 L180.0 176.0 L169.0 180.0 L173.0 172.0 Z" fill="#EEAA00"/>
<text transform="translate(109.2,122.3) scale(0.625,1)" font-size="53.8" font-weight="bold" fill="#fff" stroke="#fff" stroke-width="2.8">NYS</text>
<text transform="translate(196.2,122.3) scale(0.752,1)" font-size="53.8" font-weight="bold" fill="#55296F" stroke="#55296F" stroke-width="3.0">Mesonet</text>
<text transform="translate(197.0,143.7) scale(0.70,1)" font-size="17" font-weight="bold" fill="#55296F" letter-spacing="1.8">UNIVERSITY AT ALBANY</text>
<text x="599.5" y="45.5" font-size="21.9" text-anchor="middle" fill="#000">Figure created on Mon, 2026-03-09, at 09:00 PM</text>
<text x="599" y="65.7" font-size="21.9" text-anchor="middle" fill="#000">Data Valid: 2026/03/10 00:55:00 UTC</text>
<text x="355" y="240" font-size="50.3" font-weight="bold" text-anchor="middle" fill="#000">3 Hour Weather Summary</text>
<text x="356" y="281" font-size="28.55" font-weight="bold" text-anchor="middle" fill="#000">3 H Strong Gusts And Wind Vectors Overlaid</text>
<text x="356" y="311" font-size="28.55" font-weight="bold" text-anchor="middle" fill="#000">With Current MRMS Radar</text>
<rect x="1314" y="553" width="130" height="115.5" fill="#87CEEB"/>
<text x="1379" y="586.8" font-size="34.6" text-anchor="middle" fill="#000">25 mph</text>
<path d="M1357.2 625.1 L1385 625.1 L1384 620 L1400.4 627.5 L1384 635 L1385 629.9 L1357.2 629.9 Z" fill="#4a4a4a"/>
<text x="95.5" y="635.9" font-size="17.4" font-weight="bold" text-anchor="middle" fill="#14EC72">Current Radar</text>
<text x="9.0" y="673.5" font-size="17.4" font-weight="bold" text-anchor="start" fill="#14EC72">10 dBZ</text>
<line x1="94.0" y1="667.3" x2="178.0" y2="667.3" stroke="#14EC72" stroke-width="4.4" stroke-linecap="round"/>
<text x="9.0" y="711.0" font-size="17.4" font-weight="bold" text-anchor="start" fill="#0EC614">15 dBZ</text>
<line x1="94.0" y1="704.8" x2="178.0" y2="704.8" stroke="#0EC614" stroke-width="5.9" stroke-linecap="round"/>
<text x="9.0" y="748.6" font-size="17.4" font-weight="bold" text-anchor="start" fill="#7EF814">20 dBZ</text>
<line x1="94.0" y1="742.4" x2="178.0" y2="742.4" stroke="#7EF814" stroke-width="7.4" stroke-linecap="round"/>
<text x="9.0" y="786.1" font-size="17.4" font-weight="bold" text-anchor="start" fill="#ECF80C">25 dBZ</text>
<line x1="94.0" y1="779.9" x2="178.0" y2="779.9" stroke="#ECF80C" stroke-width="8.9" stroke-linecap="round"/>
<text x="9.0" y="823.7" font-size="17.4" font-weight="bold" text-anchor="start" fill="#FFA503">30 dBZ</text>
<line x1="94.0" y1="817.5" x2="178.0" y2="817.5" stroke="#FFA503" stroke-width="10.4" stroke-linecap="round"/>
<text x="9.0" y="861.2" font-size="17.4" font-weight="bold" text-anchor="start" fill="#EE3B04">35 dBZ</text>
<line x1="94.0" y1="855.0" x2="178.0" y2="855.0" stroke="#EE3B04" stroke-width="12.0" stroke-linecap="round"/>
<text x="272.7" y="635.9" font-size="17.4" font-weight="bold" text-anchor="middle" fill="#E680F7">Current Wind Chill</text>
<text x="220.0" y="673.5" font-size="17.4" font-weight="bold" text-anchor="middle" fill="#E680F7">20 <tspan dy="-7" font-size="11">o</tspan><tspan dy="7">F</tspan></text>
<line x1="262.0" y1="667.3" x2="337.3" y2="667.3" stroke="#E680F7" stroke-width="4.4" stroke-linecap="round"/>
<text x="220.0" y="711.0" font-size="17.4" font-weight="bold" text-anchor="middle" fill="#DB62F8">10 <tspan dy="-7" font-size="11">o</tspan><tspan dy="7">F</tspan></text>
<line x1="262.0" y1="704.8" x2="337.3" y2="704.8" stroke="#DB62F8" stroke-width="5.9" stroke-linecap="round"/>
<text x="220.0" y="748.6" font-size="17.4" font-weight="bold" text-anchor="middle" fill="#D044F6">0 <tspan dy="-7" font-size="11">o</tspan><tspan dy="7">F</tspan></text>
<line x1="262.0" y1="742.4" x2="337.3" y2="742.4" stroke="#D044F6" stroke-width="7.4" stroke-linecap="round"/>
<text x="220.0" y="786.1" font-size="17.4" font-weight="bold" text-anchor="middle" fill="#C024F5">-10 <tspan dy="-7" font-size="11">o</tspan><tspan dy="7">F</tspan></text>
<line x1="262.0" y1="779.9" x2="337.3" y2="779.9" stroke="#C024F5" stroke-width="8.9" stroke-linecap="round"/>
<text x="220.0" y="823.7" font-size="17.4" font-weight="bold" text-anchor="middle" fill="#A806F6">-20 <tspan dy="-7" font-size="11">o</tspan><tspan dy="7">F</tspan></text>
<line x1="262.0" y1="817.5" x2="337.3" y2="817.5" stroke="#A806F6" stroke-width="10.4" stroke-linecap="round"/>
<text x="220.0" y="861.2" font-size="17.4" font-weight="bold" text-anchor="middle" fill="#9C04F4">-30 <tspan dy="-7" font-size="11">o</tspan><tspan dy="7">F</tspan></text>
<line x1="262.0" y1="855.0" x2="337.3" y2="855.0" stroke="#9C04F4" stroke-width="12.0" stroke-linecap="round"/>
<text x="440.0" y="634.6" font-size="17.4" font-weight="bold" text-anchor="middle" fill="#4FA5FA">3 H Pres Change</text>
<text x="390.0" y="673.5" font-size="17.4" font-weight="bold" text-anchor="middle" fill="#4FA5FA">+2 mb</text>
<line x1="430.5" y1="667.3" x2="507.0" y2="667.3" stroke="#4FA5FA" stroke-width="4.4" stroke-linecap="round"/>
<text x="390.0" y="711.0" font-size="17.4" font-weight="bold" text-anchor="middle" fill="#4F86F3">+3 mb</text>
<line x1="430.5" y1="704.8" x2="507.0" y2="704.8" stroke="#4F86F3" stroke-width="5.9" stroke-linecap="round"/>
<text x="390.0" y="748.6" font-size="17.4" font-weight="bold" text-anchor="middle" fill="#5569EE">+4 mb</text>
<line x1="430.5" y1="742.4" x2="507.0" y2="742.4" stroke="#5569EE" stroke-width="7.4" stroke-linecap="round"/>
<text x="390.0" y="786.1" font-size="17.4" font-weight="bold" text-anchor="middle" fill="#5A49E8">+5 mb</text>
<line x1="430.5" y1="779.9" x2="507.0" y2="779.9" stroke="#5A49E8" stroke-width="8.9" stroke-linecap="round"/>
<text x="390.0" y="823.7" font-size="17.4" font-weight="bold" text-anchor="middle" fill="#5C2AE6">+6 mb</text>
<line x1="430.5" y1="817.5" x2="507.0" y2="817.5" stroke="#5C2AE6" stroke-width="10.4" stroke-linecap="round"/>
<text x="390.0" y="861.2" font-size="17.4" font-weight="bold" text-anchor="middle" fill="#6012E6">+7 mb</text>
<line x1="430.5" y1="855.0" x2="507.0" y2="855.0" stroke="#6012E6" stroke-width="12.0" stroke-linecap="round"/>
<text x="602.0" y="634.6" font-size="17.4" font-weight="bold" text-anchor="middle" fill="#A9A9A9">3 H Precipitation</text>
<text x="549.0" y="673.5" font-size="17.4" font-weight="bold" text-anchor="middle" fill="#A9A9A9">.01''</text>
<line x1="580.0" y1="667.3" x2="675.0" y2="667.3" stroke="#A9A9A9" stroke-width="4.4" stroke-linecap="round"/>
<text x="549.0" y="711.0" font-size="17.4" font-weight="bold" text-anchor="middle" fill="#999999">.05''</text>
<line x1="580.0" y1="704.8" x2="675.0" y2="704.8" stroke="#999999" stroke-width="5.9" stroke-linecap="round"/>
<text x="549.0" y="748.6" font-size="17.4" font-weight="bold" text-anchor="middle" fill="#898989">.10''</text>
<line x1="580.0" y1="742.4" x2="675.0" y2="742.4" stroke="#898989" stroke-width="7.4" stroke-linecap="round"/>
<text x="549.0" y="786.1" font-size="17.4" font-weight="bold" text-anchor="middle" fill="#707070">.20''</text>
<line x1="580.0" y1="779.9" x2="675.0" y2="779.9" stroke="#707070" stroke-width="8.9" stroke-linecap="round"/>
<text x="549.0" y="823.7" font-size="17.4" font-weight="bold" text-anchor="middle" fill="#585858">.30''</text>
<line x1="580.0" y1="817.5" x2="675.0" y2="817.5" stroke="#585858" stroke-width="10.4" stroke-linecap="round"/>
<text x="549.0" y="861.2" font-size="17.4" font-weight="bold" text-anchor="middle" fill="#454545">.40''</text>
<line x1="580.0" y1="855.0" x2="675.0" y2="855.0" stroke="#454545" stroke-width="12.0" stroke-linecap="round"/>
<text x="793.5" y="634.6" font-size="17.4" font-weight="bold" text-anchor="middle" fill="#000">3 H Snow Depth Change</text>
<text x="705.0" y="673.5" font-size="17.4" font-weight="bold" text-anchor="start" fill="#000">+.5''</text>
<line x1="749.0" y1="667.3" x2="843.0" y2="667.3" stroke="#000" stroke-width="4.4" stroke-linecap="round"/>
<text x="705.0" y="711.0" font-size="17.4" font-weight="bold" text-anchor="start" fill="#000">+1''</text>
<line x1="749.0" y1="704.8" x2="843.0" y2="704.8" stroke="#000" stroke-width="5.9" stroke-linecap="round"/>
<text x="705.0" y="748.6" font-size="17.4" font-weight="bold" text-anchor="start" fill="#000">+2''</text>
<line x1="749.0" y1="742.4" x2="843.0" y2="742.4" stroke="#000" stroke-width="7.4" stroke-linecap="round"/>
<text x="705.0" y="786.1" font-size="17.4" font-weight="bold" text-anchor="start" fill="#000">+3''</text>
<line x1="749.0" y1="779.9" x2="843.0" y2="779.9" stroke="#000" stroke-width="8.9" stroke-linecap="round"/>
<text x="705.0" y="823.7" font-size="17.4" font-weight="bold" text-anchor="start" fill="#000">+4''</text>
<line x1="749.0" y1="817.5" x2="843.0" y2="817.5" stroke="#000" stroke-width="10.4" stroke-linecap="round"/>
<text x="705.0" y="861.2" font-size="17.4" font-weight="bold" text-anchor="start" fill="#000">+5''</text>
<line x1="749.0" y1="855.0" x2="843.0" y2="855.0" stroke="#000" stroke-width="12.0" stroke-linecap="round"/>
<circle cx="899" cy="757.3" r="7.2" fill="#FF1493"/>
<text x="964.3" y="745.7" font-size="19.6" font-weight="bold" text-anchor="middle" fill="#FF1493">30 Minute</text>
<text x="964.3" y="767.0" font-size="19.6" font-weight="bold" text-anchor="middle" fill="#FF1493">MRMS</text>
<text x="964.3" y="788.3" font-size="19.6" font-weight="bold" text-anchor="middle" fill="#FF1493">Lightning</text>
<text x="965.5" y="824" font-size="17.4" font-weight="bold" text-anchor="middle" fill="#D9210F">32 <tspan dy="-7" font-size="11">o</tspan><tspan dy="7">F</tspan> Wet-bulb Contour</text>
<line x1="917" y1="855" x2="1012" y2="855" stroke="#D9210F" stroke-width="12" stroke-linecap="round"/>
</svg></body></html>
